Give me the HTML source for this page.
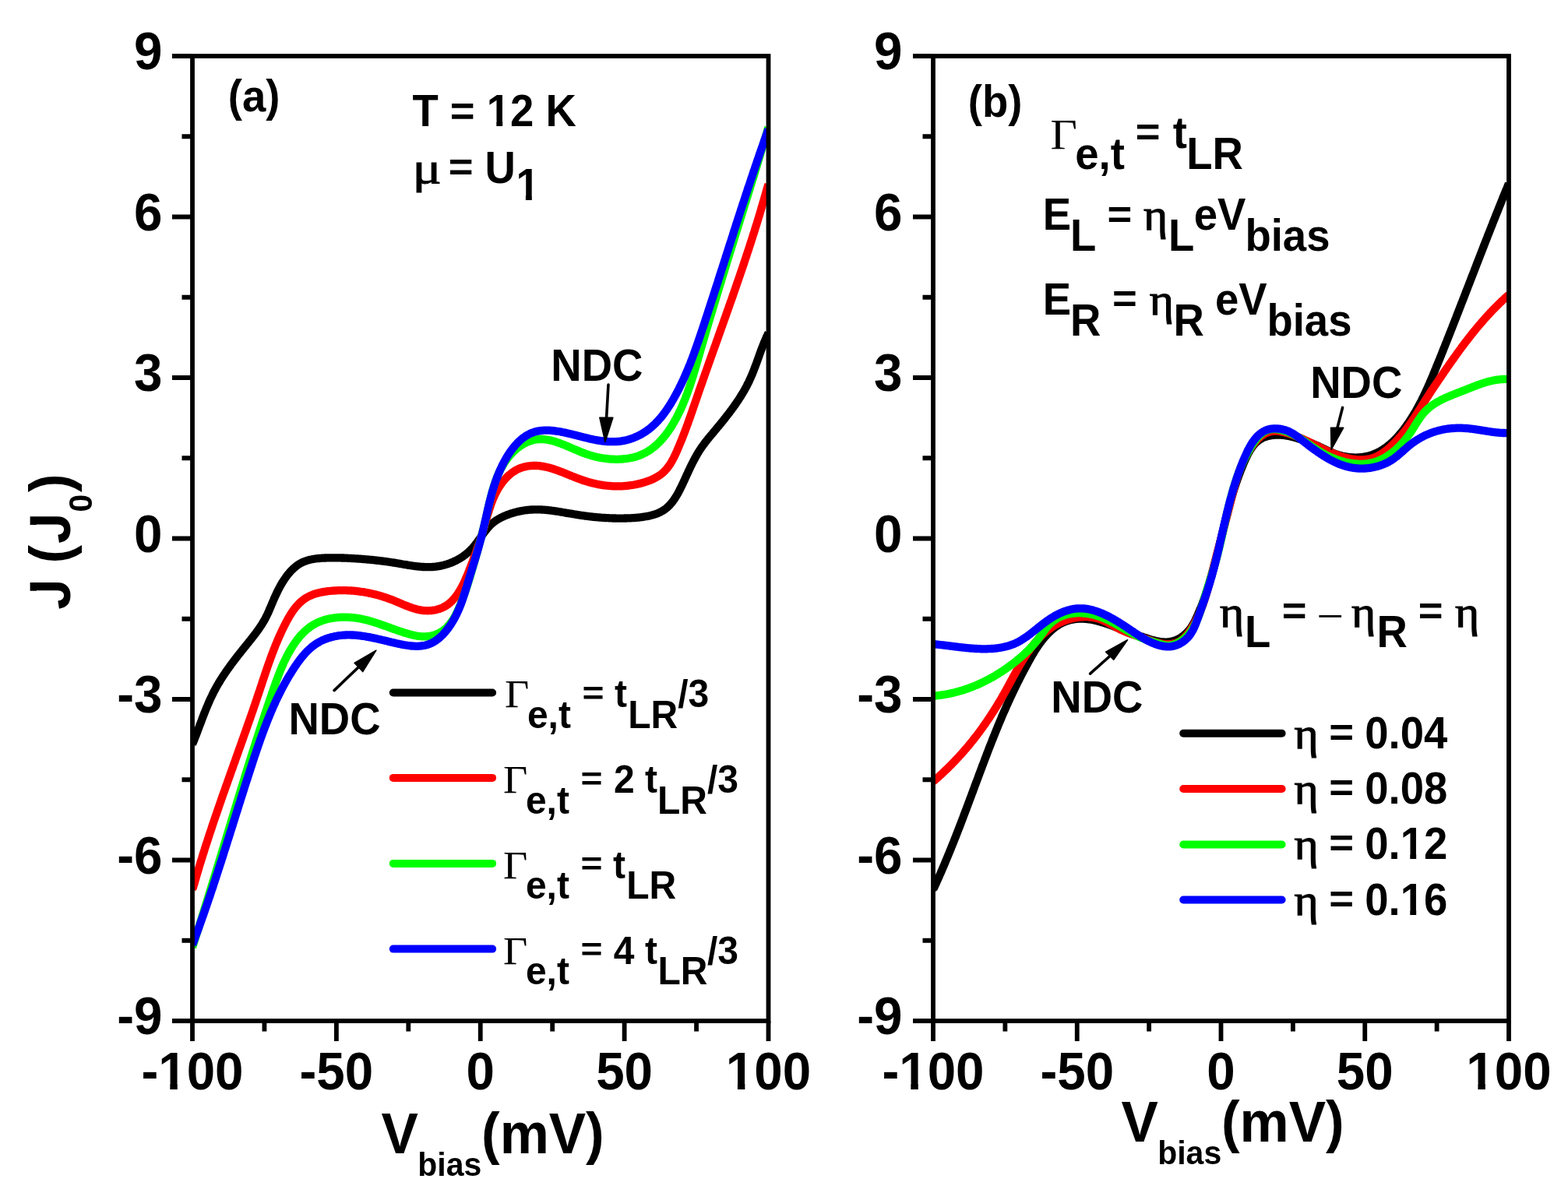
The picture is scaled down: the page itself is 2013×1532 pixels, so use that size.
<!DOCTYPE html>
<html><head><meta charset="utf-8"><title>J-V curves</title>
<style>html,body{margin:0;padding:0;background:#fff;} svg{display:block;}</style>
</head><body>
<svg xmlns="http://www.w3.org/2000/svg" width="2013" height="1532" viewBox="0 0 2013 1532">
<rect x="0" y="0" width="2013" height="1532" fill="#fff"/>
<defs>
<clipPath id="ca"><rect x="247.0" y="52.0" width="739.5" height="1279.0"/></clipPath>
<clipPath id="cb"><rect x="1198.0" y="52.0" width="739.0" height="1279.0"/></clipPath>
</defs>
<path d="M247.0,955.0 L247.7,954.0 L248.1,953.0 L248.5,951.9 L249.0,950.9 L249.4,949.8 L249.8,948.8 L250.2,947.7 L250.6,946.7 L251.0,945.6 L251.5,944.5 L251.9,943.5 L252.3,942.4 L252.7,941.3 L253.1,940.3 L253.5,939.2 L253.9,938.1 L254.3,937.1 L254.7,936.0 L255.1,934.9 L255.5,933.8 L255.9,932.7 L256.3,931.7 L256.7,930.6 L257.2,929.5 L257.6,928.4 L258.0,927.4 L258.4,926.3 L258.8,925.2 L259.2,924.1 L259.6,923.0 L260.0,921.9 L260.4,920.9 L260.8,919.8 L261.3,918.7 L261.7,917.6 L262.1,916.5 L262.5,915.5 L262.9,914.4 L263.4,913.3 L263.8,912.2 L264.2,911.2 L264.7,910.1 L265.1,909.0 L265.6,907.9 L266.0,906.9 L266.5,905.8 L266.9,904.7 L267.4,903.7 L267.8,902.6 L268.3,901.6 L268.8,900.5 L269.2,899.4 L269.7,898.4 L270.2,897.3 L270.7,896.3 L271.2,895.2 L271.7,894.2 L272.2,893.2 L272.7,892.1 L273.2,891.1 L273.7,890.1 L274.2,889.0 L274.7,888.0 L275.3,887.0 L275.8,886.0 L276.4,885.0 L276.9,883.9 L277.5,882.9 L278.0,881.9 L278.6,880.9 L279.2,879.9 L279.7,878.9 L280.3,878.0 L280.9,877.0 L281.5,876.0 L282.1,875.0 L282.7,874.0 L283.3,873.0 L283.9,872.1 L284.5,871.1 L285.1,870.1 L285.8,869.2 L286.4,868.2 L287.0,867.2 L287.7,866.3 L288.3,865.3 L289.0,864.4 L289.6,863.4 L290.2,862.5 L290.9,861.5 L291.6,860.6 L292.2,859.6 L292.9,858.7 L293.6,857.8 L294.2,856.8 L294.9,855.9 L295.6,855.0 L296.3,854.0 L296.9,853.1 L297.6,852.2 L298.3,851.3 L299.0,850.3 L299.7,849.4 L300.4,848.5 L301.1,847.6 L301.8,846.7 L302.5,845.7 L303.2,844.8 L303.9,843.9 L304.6,843.0 L305.3,842.1 L306.0,841.2 L306.7,840.3 L307.4,839.4 L308.2,838.5 L308.9,837.6 L309.6,836.7 L310.3,835.8 L311.0,834.9 L311.7,834.0 L312.5,833.1 L313.2,832.2 L313.9,831.3 L314.6,830.4 L315.4,829.5 L316.1,828.6 L316.8,827.7 L317.5,826.8 L318.3,825.9 L319.0,825.0 L319.7,824.1 L320.4,823.2 L321.1,822.3 L321.9,821.4 L322.6,820.5 L323.3,819.6 L324.0,818.7 L324.7,817.8 L325.4,816.9 L326.1,816.0 L326.8,815.1 L327.5,814.2 L328.2,813.3 L328.9,812.4 L329.5,811.5 L330.2,810.5 L330.9,809.6 L331.5,808.7 L332.2,807.8 L332.8,806.8 L333.5,805.9 L334.1,804.9 L334.7,804.0 L335.4,803.1 L336.0,802.1 L336.6,801.1 L337.2,800.2 L337.8,799.2 L338.3,798.2 L338.9,797.3 L339.5,796.3 L340.0,795.3 L340.6,794.3 L341.1,793.3 L341.6,792.3 L342.1,791.3 L342.6,790.2 L343.1,789.2 L343.6,788.2 L344.1,787.1 L344.6,786.1 L345.0,785.1 L345.5,784.0 L345.9,782.9 L346.4,781.9 L346.8,780.8 L347.3,779.8 L347.7,778.7 L348.2,777.6 L348.6,776.5 L349.1,775.5 L349.5,774.4 L350.0,773.3 L350.4,772.2 L350.9,771.2 L351.4,770.1 L351.8,769.0 L352.3,767.9 L352.8,766.8 L353.3,765.8 L353.8,764.7 L354.3,763.6 L354.8,762.6 L355.3,761.5 L355.8,760.4 L356.3,759.4 L356.8,758.3 L357.4,757.2 L357.9,756.2 L358.5,755.2 L359.0,754.1 L359.6,753.1 L360.2,752.0 L360.7,751.0 L361.3,750.0 L361.9,749.0 L362.5,748.0 L363.1,747.0 L363.8,746.0 L364.4,745.0 L365.0,744.1 L365.7,743.1 L366.4,742.1 L367.0,741.2 L367.7,740.3 L368.4,739.3 L369.1,738.4 L369.8,737.5 L370.5,736.6 L371.3,735.8 L372.0,734.9 L372.8,734.0 L373.6,733.2 L374.3,732.4 L375.1,731.6 L376.0,730.8 L376.8,730.0 L377.6,729.2 L378.5,728.5 L379.3,727.8 L380.2,727.1 L381.1,726.4 L382.0,725.8 L382.9,725.1 L383.8,724.5 L384.8,723.9 L385.7,723.4 L386.7,722.9 L387.7,722.4 L388.7,721.9 L389.7,721.5 L390.7,721.0 L391.8,720.7 L392.8,720.3 L393.9,719.9 L394.9,719.6 L396.0,719.3 L397.1,719.0 L398.2,718.7 L399.3,718.5 L400.4,718.3 L401.6,718.0 L402.7,717.8 L403.8,717.7 L405.0,717.5 L406.1,717.3 L407.3,717.2 L408.5,717.1 L409.6,717.0 L410.8,716.9 L412.0,716.8 L413.1,716.7 L414.3,716.6 L415.5,716.6 L416.7,716.5 L417.8,716.5 L419.0,716.4 L420.2,716.4 L421.4,716.4 L422.5,716.3 L423.7,716.3 L424.9,716.3 L426.1,716.3 L427.2,716.3 L428.4,716.3 L429.6,716.3 L430.7,716.3 L431.9,716.3 L433.0,716.3 L434.2,716.3 L435.4,716.4 L436.5,716.4 L437.7,716.4 L438.8,716.5 L440.0,716.5 L441.2,716.5 L442.3,716.6 L443.5,716.6 L444.6,716.7 L445.8,716.7 L446.9,716.8 L448.1,716.8 L449.2,716.9 L450.4,716.9 L451.5,717.0 L452.7,717.1 L453.8,717.1 L455.0,717.2 L456.1,717.3 L457.2,717.4 L458.4,717.4 L459.5,717.5 L460.7,717.6 L461.8,717.7 L463.0,717.7 L464.1,717.8 L465.3,717.9 L466.4,718.0 L467.6,718.1 L468.7,718.2 L469.8,718.3 L471.0,718.4 L472.1,718.5 L473.3,718.6 L474.4,718.7 L475.6,718.8 L476.7,718.9 L477.8,719.0 L479.0,719.1 L480.1,719.3 L481.3,719.4 L482.4,719.5 L483.5,719.6 L484.7,719.8 L485.8,719.9 L487.0,720.0 L488.1,720.2 L489.2,720.3 L490.4,720.4 L491.5,720.6 L492.7,720.7 L493.8,720.9 L495.0,721.0 L496.1,721.2 L497.2,721.3 L498.4,721.5 L499.5,721.7 L500.7,721.8 L501.8,722.0 L502.9,722.2 L504.1,722.4 L505.2,722.5 L506.4,722.7 L507.5,722.9 L508.7,723.1 L509.8,723.3 L510.9,723.5 L512.1,723.7 L513.2,723.9 L514.4,724.1 L515.5,724.3 L516.7,724.5 L517.8,724.7 L518.9,724.9 L520.1,725.1 L521.2,725.2 L522.4,725.4 L523.5,725.6 L524.7,725.8 L525.8,726.0 L526.9,726.2 L528.1,726.3 L529.2,726.5 L530.4,726.7 L531.5,726.8 L532.7,727.0 L533.8,727.1 L534.9,727.3 L536.1,727.4 L537.2,727.5 L538.4,727.6 L539.5,727.7 L540.7,727.8 L541.8,727.9 L542.9,728.0 L544.1,728.0 L545.2,728.1 L546.4,728.1 L547.5,728.2 L548.6,728.2 L549.8,728.2 L550.9,728.2 L552.1,728.1 L553.2,728.1 L554.3,728.1 L555.5,728.0 L556.6,727.9 L557.7,727.8 L558.9,727.7 L560.0,727.6 L561.1,727.4 L562.3,727.2 L563.4,727.1 L564.5,726.9 L565.7,726.6 L566.8,726.4 L567.9,726.1 L569.1,725.9 L570.2,725.6 L571.3,725.3 L572.4,724.9 L573.5,724.6 L574.6,724.3 L575.7,723.9 L576.8,723.5 L577.9,723.1 L579.0,722.7 L580.1,722.2 L581.2,721.8 L582.2,721.3 L583.3,720.8 L584.4,720.3 L585.4,719.8 L586.4,719.3 L587.5,718.7 L588.5,718.2 L589.5,717.6 L590.5,717.0 L591.5,716.4 L592.5,715.8 L593.5,715.1 L594.4,714.5 L595.4,713.8 L596.3,713.1 L597.2,712.4 L598.1,711.7 L599.0,711.0 L599.9,710.2 L600.8,709.5 L601.7,708.7 L602.5,707.9 L603.4,707.1 L604.2,706.3 L605.0,705.5 L605.8,704.7 L606.5,703.8 L607.3,703.0 L608.1,702.1 L608.8,701.2 L609.5,700.3 L610.2,699.4 L610.9,698.5 L611.6,697.6 L612.3,696.7 L613.0,695.8 L613.7,694.8 L614.3,693.9 L615.0,693.0 L615.7,692.0 L616.3,691.1 L617.0,690.1 L617.7,689.2 L618.3,688.3 L619.0,687.3 L619.7,686.4 L620.3,685.5 L621.0,684.6 L621.7,683.6 L622.4,682.7 L623.0,681.8 L623.7,681.0 L624.5,680.1 L625.2,679.2 L625.9,678.3 L626.6,677.5 L627.4,676.7 L628.1,675.8 L628.9,675.0 L629.7,674.2 L630.5,673.4 L631.4,672.7 L632.2,671.9 L633.1,671.2 L633.9,670.5 L634.8,669.8 L635.8,669.2 L636.7,668.5 L637.6,667.9 L638.6,667.3 L639.6,666.7 L640.6,666.1 L641.6,665.6 L642.6,665.0 L643.7,664.5 L644.7,664.0 L645.8,663.5 L646.8,663.0 L647.9,662.5 L649.0,662.1 L650.1,661.6 L651.2,661.2 L652.3,660.8 L653.4,660.4 L654.5,660.0 L655.6,659.6 L656.7,659.2 L657.9,658.9 L659.0,658.6 L660.1,658.2 L661.3,657.9 L662.4,657.6 L663.6,657.3 L664.7,657.1 L665.8,656.8 L667.0,656.6 L668.1,656.3 L669.3,656.1 L670.4,655.9 L671.5,655.7 L672.7,655.5 L673.8,655.3 L675.0,655.2 L676.1,655.1 L677.2,654.9 L678.4,654.8 L679.5,654.7 L680.7,654.6 L681.8,654.5 L682.9,654.5 L684.1,654.4 L685.2,654.4 L686.4,654.3 L687.5,654.3 L688.6,654.3 L689.8,654.3 L690.9,654.3 L692.1,654.3 L693.2,654.4 L694.3,654.4 L695.5,654.5 L696.6,654.6 L697.8,654.6 L698.9,654.7 L700.1,654.8 L701.2,654.9 L702.4,655.0 L703.5,655.1 L704.6,655.3 L705.8,655.4 L706.9,655.5 L708.1,655.7 L709.2,655.8 L710.4,656.0 L711.5,656.1 L712.7,656.3 L713.8,656.5 L715.0,656.6 L716.1,656.8 L717.3,657.0 L718.4,657.2 L719.5,657.4 L720.7,657.6 L721.8,657.8 L723.0,658.0 L724.1,658.2 L725.3,658.4 L726.4,658.6 L727.6,658.8 L728.7,659.0 L729.8,659.1 L731.0,659.3 L732.1,659.5 L733.3,659.7 L734.4,659.9 L735.6,660.1 L736.7,660.3 L737.8,660.5 L739.0,660.7 L740.1,660.9 L741.2,661.1 L742.4,661.2 L743.5,661.4 L744.7,661.6 L745.8,661.8 L746.9,661.9 L748.1,662.1 L749.2,662.2 L750.3,662.4 L751.5,662.6 L752.6,662.7 L753.7,662.8 L754.9,663.0 L756.0,663.1 L757.1,663.3 L758.3,663.4 L759.4,663.5 L760.5,663.6 L761.7,663.8 L762.8,663.9 L763.9,664.0 L765.1,664.1 L766.2,664.2 L767.3,664.3 L768.5,664.4 L769.6,664.5 L770.7,664.6 L771.9,664.7 L773.0,664.8 L774.1,664.9 L775.3,664.9 L776.4,665.0 L777.6,665.1 L778.7,665.1 L779.8,665.2 L781.0,665.2 L782.1,665.3 L783.3,665.3 L784.4,665.4 L785.6,665.4 L786.7,665.5 L787.9,665.5 L789.0,665.5 L790.2,665.5 L791.3,665.6 L792.5,665.6 L793.6,665.6 L794.8,665.6 L796.0,665.6 L797.1,665.6 L798.3,665.6 L799.4,665.6 L800.6,665.6 L801.8,665.5 L802.9,665.5 L804.1,665.5 L805.3,665.4 L806.5,665.4 L807.6,665.4 L808.8,665.3 L810.0,665.3 L811.2,665.2 L812.4,665.1 L813.5,665.1 L814.7,665.0 L815.9,664.9 L817.1,664.8 L818.3,664.7 L819.5,664.6 L820.6,664.5 L821.8,664.3 L823.0,664.2 L824.2,664.0 L825.3,663.9 L826.5,663.7 L827.7,663.5 L828.8,663.3 L830.0,663.1 L831.2,662.9 L832.3,662.7 L833.5,662.4 L834.6,662.2 L835.7,661.9 L836.9,661.6 L838.0,661.3 L839.1,661.0 L840.2,660.6 L841.3,660.3 L842.4,659.9 L843.4,659.5 L844.5,659.1 L845.5,658.6 L846.6,658.2 L847.6,657.7 L848.6,657.2 L849.6,656.6 L850.5,656.1 L851.5,655.5 L852.4,654.9 L853.3,654.3 L854.2,653.6 L855.0,653.0 L855.9,652.3 L856.7,651.5 L857.5,650.8 L858.3,650.0 L859.1,649.3 L859.8,648.5 L860.6,647.6 L861.3,646.8 L862.0,645.9 L862.8,645.1 L863.4,644.2 L864.1,643.3 L864.8,642.4 L865.4,641.4 L866.1,640.5 L866.7,639.5 L867.3,638.6 L867.9,637.6 L868.5,636.6 L869.1,635.6 L869.7,634.6 L870.3,633.6 L870.8,632.6 L871.4,631.5 L871.9,630.5 L872.5,629.4 L873.0,628.4 L873.5,627.3 L874.0,626.3 L874.6,625.2 L875.1,624.2 L875.6,623.1 L876.1,622.0 L876.6,621.0 L877.1,619.9 L877.6,618.8 L878.1,617.8 L878.6,616.7 L879.1,615.7 L879.5,614.6 L880.0,613.5 L880.5,612.5 L881.0,611.4 L881.5,610.3 L882.0,609.3 L882.5,608.2 L883.0,607.2 L883.4,606.1 L883.9,605.1 L884.4,604.0 L884.9,603.0 L885.4,601.9 L885.9,600.9 L886.4,599.8 L886.9,598.8 L887.4,597.8 L887.9,596.7 L888.4,595.7 L888.9,594.7 L889.4,593.7 L890.0,592.6 L890.5,591.6 L891.0,590.6 L891.6,589.6 L892.1,588.6 L892.6,587.6 L893.2,586.6 L893.8,585.6 L894.3,584.6 L894.9,583.6 L895.5,582.6 L896.1,581.7 L896.7,580.7 L897.3,579.7 L897.9,578.7 L898.5,577.8 L899.1,576.8 L899.8,575.9 L900.4,574.9 L901.1,574.0 L901.7,573.1 L902.4,572.1 L903.1,571.2 L903.8,570.3 L904.4,569.4 L905.1,568.5 L905.8,567.5 L906.6,566.6 L907.3,565.7 L908.0,564.8 L908.7,563.9 L909.4,563.0 L910.2,562.1 L910.9,561.2 L911.6,560.3 L912.4,559.4 L913.1,558.6 L913.9,557.7 L914.6,556.8 L915.3,555.9 L916.1,555.0 L916.8,554.1 L917.6,553.2 L918.3,552.3 L919.1,551.4 L919.8,550.5 L920.5,549.6 L921.3,548.7 L922.0,547.9 L922.8,547.0 L923.5,546.1 L924.2,545.2 L925.0,544.3 L925.7,543.4 L926.4,542.5 L927.2,541.6 L927.9,540.7 L928.6,539.8 L929.3,538.9 L930.1,538.0 L930.8,537.1 L931.5,536.1 L932.2,535.2 L932.9,534.3 L933.6,533.4 L934.3,532.5 L935.0,531.6 L935.8,530.7 L936.5,529.7 L937.1,528.8 L937.8,527.9 L938.5,527.0 L939.2,526.1 L939.9,525.1 L940.6,524.2 L941.3,523.3 L941.9,522.3 L942.6,521.4 L943.3,520.5 L943.9,519.5 L944.6,518.6 L945.2,517.6 L945.9,516.7 L946.5,515.7 L947.2,514.8 L947.8,513.8 L948.4,512.9 L949.1,511.9 L949.7,510.9 L950.3,510.0 L950.9,509.0 L951.5,508.0 L952.1,507.0 L952.7,506.1 L953.3,505.1 L953.9,504.1 L954.5,503.1 L955.1,502.1 L955.6,501.1 L956.2,500.1 L956.7,499.1 L957.3,498.1 L957.8,497.1 L958.4,496.1 L958.9,495.1 L959.4,494.1 L959.9,493.0 L960.5,492.0 L961.0,491.0 L961.5,490.0 L962.0,488.9 L962.4,487.9 L962.9,486.8 L963.4,485.8 L963.9,484.7 L964.3,483.7 L964.8,482.6 L965.2,481.6 L965.7,480.5 L966.1,479.4 L966.5,478.4 L967.0,477.3 L967.4,476.2 L967.8,475.1 L968.2,474.1 L968.6,473.0 L969.1,471.9 L969.5,470.8 L969.9,469.7 L970.3,468.6 L970.7,467.6 L971.1,466.5 L971.5,465.4 L971.9,464.3 L972.3,463.2 L972.7,462.1 L973.1,461.0 L973.5,459.9 L973.9,458.9 L974.2,457.8 L974.6,456.7 L975.0,455.6 L975.4,454.5 L975.8,453.4 L976.2,452.3 L976.6,451.2 L977.0,450.2 L977.4,449.1 L977.8,448.0 L978.3,446.9 L978.7,445.9 L979.1,444.8 L979.5,443.7 L979.9,442.6 L980.3,441.6 L980.8,440.5 L981.2,439.4 L981.7,438.4 L982.1,437.3 L982.5,436.3 L983.0,435.2 L983.5,434.2 L983.9,433.1 L984.4,432.1 L984.9,431.0 L985.4,430.0 L985.8,429.0 L986.5,428.0" fill="none" stroke="#000" stroke-width="10.3" stroke-linejoin="round" stroke-linecap="butt" clip-path="url(#ca)"/>
<path d="M247.0,1141.0 L248.0,1139.7 L248.4,1138.2 L248.8,1136.7 L249.3,1135.3 L249.7,1133.8 L250.1,1132.3 L250.5,1130.8 L251.0,1129.3 L251.4,1127.9 L251.8,1126.4 L252.2,1124.9 L252.7,1123.4 L253.1,1122.0 L253.5,1120.5 L254.0,1119.0 L254.4,1117.5 L254.9,1116.1 L255.3,1114.6 L255.7,1113.1 L256.2,1111.6 L256.6,1110.2 L257.1,1108.7 L257.5,1107.2 L258.0,1105.8 L258.4,1104.3 L258.9,1102.8 L259.4,1101.4 L259.8,1099.9 L260.3,1098.4 L260.7,1097.0 L261.2,1095.5 L261.7,1094.0 L262.1,1092.6 L262.6,1091.1 L263.0,1089.6 L263.5,1088.2 L264.0,1086.7 L264.5,1085.2 L264.9,1083.8 L265.4,1082.3 L265.9,1080.8 L266.4,1079.4 L266.8,1077.9 L267.3,1076.4 L267.8,1075.0 L268.3,1073.5 L268.7,1072.1 L269.2,1070.6 L269.7,1069.1 L270.2,1067.7 L270.7,1066.2 L271.2,1064.8 L271.7,1063.3 L272.1,1061.8 L272.6,1060.4 L273.1,1058.9 L273.6,1057.5 L274.1,1056.0 L274.6,1054.6 L275.1,1053.1 L275.6,1051.6 L276.1,1050.2 L276.6,1048.7 L277.1,1047.3 L277.6,1045.8 L278.1,1044.4 L278.6,1042.9 L279.1,1041.5 L279.6,1040.0 L280.1,1038.6 L280.6,1037.1 L281.1,1035.6 L281.6,1034.2 L282.1,1032.7 L282.6,1031.3 L283.1,1029.8 L283.6,1028.4 L284.1,1026.9 L284.6,1025.5 L285.1,1024.0 L285.6,1022.6 L286.1,1021.1 L286.6,1019.7 L287.2,1018.2 L287.7,1016.8 L288.2,1015.3 L288.7,1013.9 L289.2,1012.4 L289.7,1011.0 L290.2,1009.5 L290.7,1008.1 L291.3,1006.6 L291.8,1005.2 L292.3,1003.7 L292.8,1002.3 L293.3,1000.8 L293.8,999.4 L294.3,997.9 L294.9,996.5 L295.4,995.0 L295.9,993.6 L296.4,992.1 L296.9,990.7 L297.4,989.2 L298.0,987.8 L298.5,986.3 L299.0,984.9 L299.5,983.4 L300.0,982.0 L300.5,980.5 L301.1,979.1 L301.6,977.6 L302.1,976.2 L302.6,974.7 L303.1,973.3 L303.6,971.8 L304.2,970.4 L304.7,968.9 L305.2,967.5 L305.7,966.0 L306.2,964.6 L306.7,963.1 L307.2,961.7 L307.8,960.2 L308.3,958.8 L308.8,957.3 L309.3,955.9 L309.8,954.4 L310.3,953.0 L310.9,951.5 L311.4,950.1 L311.9,948.6 L312.4,947.2 L312.9,945.7 L313.4,944.3 L313.9,942.8 L314.4,941.4 L315.0,939.9 L315.5,938.5 L316.0,937.0 L316.5,935.6 L317.0,934.1 L317.5,932.7 L318.0,931.2 L318.5,929.8 L319.0,928.3 L319.5,926.9 L320.1,925.4 L320.6,924.0 L321.1,922.5 L321.6,921.1 L322.1,919.6 L322.6,918.2 L323.1,916.7 L323.6,915.3 L324.1,913.8 L324.6,912.4 L325.1,910.9 L325.6,909.5 L326.1,908.0 L326.6,906.6 L327.1,905.1 L327.6,903.6 L328.1,902.2 L328.6,900.7 L329.1,899.3 L329.6,897.8 L330.0,896.4 L330.5,894.9 L331.0,893.5 L331.5,892.0 L332.0,890.5 L332.5,889.1 L333.0,887.6 L333.5,886.2 L333.9,884.7 L334.4,883.3 L334.9,881.8 L335.4,880.3 L335.9,878.9 L336.4,877.4 L336.8,876.0 L337.3,874.5 L337.8,873.1 L338.3,871.6 L338.8,870.1 L339.3,868.7 L339.8,867.2 L340.2,865.8 L340.7,864.3 L341.2,862.9 L341.7,861.4 L342.2,860.0 L342.7,858.5 L343.2,857.1 L343.7,855.6 L344.2,854.1 L344.7,852.7 L345.2,851.2 L345.8,849.8 L346.3,848.4 L346.8,846.9 L347.3,845.5 L347.8,844.0 L348.4,842.6 L348.9,841.1 L349.4,839.7 L350.0,838.3 L350.5,836.8 L351.1,835.4 L351.6,834.0 L352.2,832.5 L352.8,831.1 L353.3,829.7 L353.9,828.2 L354.5,826.8 L355.1,825.4 L355.7,824.0 L356.3,822.5 L356.9,821.1 L357.5,819.7 L358.1,818.3 L358.7,816.9 L359.4,815.5 L360.0,814.1 L360.7,812.7 L361.3,811.2 L362.0,809.8 L362.6,808.4 L363.3,807.1 L364.0,805.7 L364.7,804.3 L365.4,802.9 L366.1,801.5 L366.8,800.1 L367.5,798.7 L368.3,797.3 L369.0,796.0 L369.8,794.6 L370.5,793.3 L371.3,791.9 L372.1,790.6 L372.9,789.3 L373.7,788.0 L374.6,786.7 L375.4,785.4 L376.3,784.1 L377.2,782.9 L378.1,781.7 L379.0,780.5 L380.0,779.3 L381.0,778.2 L382.0,777.1 L383.0,776.0 L384.0,774.9 L385.1,773.9 L386.2,772.9 L387.3,771.9 L388.4,771.0 L389.6,770.1 L390.8,769.2 L392.0,768.4 L393.3,767.6 L394.5,766.9 L395.9,766.1 L397.2,765.5 L398.6,764.8 L400.0,764.3 L401.4,763.7 L402.8,763.2 L404.3,762.7 L405.7,762.2 L407.2,761.8 L408.7,761.4 L410.3,761.0 L411.8,760.7 L413.3,760.4 L414.9,760.1 L416.5,759.8 L418.1,759.6 L419.6,759.4 L421.2,759.2 L422.8,759.0 L424.4,758.8 L426.0,758.7 L427.6,758.6 L429.2,758.5 L430.8,758.4 L432.4,758.3 L433.9,758.2 L435.5,758.2 L437.1,758.2 L438.7,758.1 L440.2,758.1 L441.8,758.2 L443.3,758.2 L444.9,758.2 L446.4,758.3 L448.0,758.3 L449.5,758.4 L451.0,758.5 L452.6,758.6 L454.1,758.7 L455.6,758.9 L457.1,759.0 L458.6,759.2 L460.2,759.4 L461.7,759.6 L463.2,759.8 L464.7,760.0 L466.2,760.2 L467.7,760.4 L469.2,760.7 L470.7,761.0 L472.1,761.3 L473.6,761.6 L475.1,761.9 L476.6,762.2 L478.1,762.5 L479.6,762.9 L481.0,763.2 L482.5,763.6 L484.0,764.0 L485.4,764.4 L486.9,764.8 L488.4,765.2 L489.8,765.7 L491.3,766.1 L492.8,766.6 L494.2,767.1 L495.7,767.5 L497.1,768.0 L498.6,768.6 L500.0,769.1 L501.5,769.6 L502.9,770.2 L504.4,770.7 L505.8,771.3 L507.3,771.9 L508.7,772.5 L510.2,773.1 L511.6,773.7 L513.1,774.3 L514.5,774.9 L516.0,775.6 L517.4,776.2 L518.9,776.8 L520.3,777.4 L521.8,778.0 L523.3,778.5 L524.7,779.1 L526.2,779.6 L527.7,780.2 L529.1,780.7 L530.6,781.2 L532.1,781.6 L533.6,782.0 L535.1,782.4 L536.5,782.8 L538.0,783.1 L539.6,783.4 L541.1,783.7 L542.6,783.9 L544.1,784.0 L545.6,784.2 L547.2,784.2 L548.7,784.3 L550.2,784.2 L551.8,784.2 L553.3,784.1 L554.8,783.9 L556.3,783.7 L557.8,783.5 L559.3,783.2 L560.8,782.8 L562.2,782.4 L563.6,782.0 L565.1,781.5 L566.4,781.0 L567.8,780.4 L569.1,779.8 L570.4,779.1 L571.7,778.4 L573.0,777.6 L574.2,776.8 L575.3,776.0 L576.5,775.1 L577.6,774.1 L578.7,773.2 L579.8,772.1 L580.8,771.1 L581.8,770.0 L582.8,768.9 L583.8,767.8 L584.7,766.6 L585.7,765.4 L586.6,764.1 L587.4,762.9 L588.3,761.6 L589.1,760.3 L590.0,759.0 L590.8,757.6 L591.5,756.3 L592.3,754.9 L593.0,753.5 L593.8,752.1 L594.5,750.6 L595.2,749.2 L595.9,747.7 L596.6,746.3 L597.2,744.8 L597.9,743.3 L598.5,741.9 L599.1,740.4 L599.8,738.9 L600.4,737.4 L601.0,735.9 L601.6,734.4 L602.2,733.0 L602.7,731.5 L603.3,730.0 L603.9,728.6 L604.5,727.1 L605.0,725.6 L605.6,724.2 L606.1,722.8 L606.7,721.3 L607.2,719.9 L607.7,718.5 L608.3,717.0 L608.8,715.6 L609.3,714.2 L609.8,712.8 L610.4,711.4 L610.9,709.9 L611.4,708.5 L611.9,707.1 L612.4,705.7 L612.9,704.3 L613.3,702.9 L613.8,701.5 L614.3,700.1 L614.8,698.6 L615.3,697.2 L615.7,695.8 L616.2,694.4 L616.6,693.0 L617.1,691.5 L617.6,690.1 L618.0,688.7 L618.4,687.2 L618.9,685.8 L619.3,684.3 L619.8,682.9 L620.2,681.4 L620.6,680.0 L621.0,678.5 L621.5,677.0 L621.9,675.5 L622.3,674.0 L622.7,672.5 L623.1,671.1 L623.6,669.6 L624.0,668.1 L624.4,666.6 L624.8,665.1 L625.3,663.6 L625.7,662.1 L626.1,660.6 L626.6,659.1 L627.1,657.6 L627.5,656.1 L628.0,654.6 L628.5,653.1 L629.0,651.6 L629.5,650.2 L630.0,648.7 L630.5,647.2 L631.0,645.8 L631.6,644.3 L632.1,642.9 L632.7,641.4 L633.3,640.0 L633.9,638.6 L634.5,637.2 L635.2,635.8 L635.8,634.4 L636.5,633.0 L637.2,631.7 L637.9,630.3 L638.7,629.0 L639.4,627.6 L640.2,626.3 L641.0,625.0 L641.9,623.8 L642.7,622.5 L643.6,621.3 L644.5,620.0 L645.4,618.8 L646.4,617.6 L647.3,616.4 L648.4,615.3 L649.4,614.1 L650.5,613.0 L651.5,612.0 L652.7,610.9 L653.8,609.9 L655.0,608.9 L656.2,607.9 L657.4,607.0 L658.6,606.1 L659.9,605.3 L661.2,604.5 L662.5,603.7 L663.9,603.0 L665.2,602.3 L666.6,601.7 L668.0,601.1 L669.5,600.6 L670.9,600.2 L672.4,599.7 L673.9,599.4 L675.4,599.0 L676.9,598.7 L678.4,598.5 L679.9,598.3 L681.4,598.2 L682.9,598.1 L684.4,598.0 L685.9,598.0 L687.4,598.0 L688.9,598.0 L690.4,598.1 L691.9,598.2 L693.4,598.4 L694.9,598.6 L696.4,598.8 L697.9,599.1 L699.3,599.3 L700.8,599.7 L702.3,600.0 L703.7,600.3 L705.2,600.7 L706.7,601.1 L708.1,601.6 L709.6,602.0 L711.1,602.5 L712.5,603.0 L714.0,603.5 L715.4,604.0 L716.9,604.5 L718.4,605.1 L719.8,605.6 L721.3,606.2 L722.7,606.7 L724.2,607.3 L725.6,607.9 L727.1,608.5 L728.5,609.1 L730.0,609.7 L731.5,610.3 L732.9,610.9 L734.4,611.5 L735.8,612.0 L737.3,612.6 L738.8,613.2 L740.2,613.8 L741.7,614.3 L743.2,614.9 L744.6,615.4 L746.1,616.0 L747.6,616.5 L749.1,617.0 L750.6,617.5 L752.0,617.9 L753.5,618.4 L755.0,618.8 L756.5,619.3 L758.0,619.7 L759.5,620.1 L761.0,620.4 L762.5,620.8 L764.0,621.1 L765.5,621.5 L767.0,621.8 L768.5,622.1 L770.0,622.4 L771.6,622.6 L773.1,622.9 L774.6,623.1 L776.1,623.3 L777.6,623.5 L779.1,623.7 L780.6,623.8 L782.2,623.9 L783.7,624.1 L785.2,624.2 L786.7,624.3 L788.3,624.3 L789.8,624.4 L791.3,624.4 L792.8,624.4 L794.3,624.4 L795.9,624.4 L797.4,624.3 L798.9,624.3 L800.4,624.2 L802.0,624.1 L803.5,623.9 L805.0,623.8 L806.5,623.6 L808.1,623.4 L809.6,623.2 L811.1,623.0 L812.6,622.8 L814.2,622.5 L815.7,622.2 L817.2,621.9 L818.7,621.6 L820.2,621.2 L821.7,620.9 L823.2,620.5 L824.8,620.1 L826.3,619.6 L827.8,619.2 L829.3,618.7 L830.8,618.2 L832.2,617.6 L833.7,617.1 L835.2,616.5 L836.6,615.9 L838.0,615.3 L839.4,614.6 L840.8,613.9 L842.2,613.2 L843.5,612.4 L844.8,611.6 L846.1,610.8 L847.4,609.9 L848.6,609.0 L849.8,608.1 L850.9,607.2 L852.0,606.2 L853.1,605.1 L854.1,604.0 L855.1,602.9 L856.1,601.8 L857.0,600.6 L858.0,599.4 L858.8,598.2 L859.7,597.0 L860.5,595.7 L861.3,594.4 L862.1,593.1 L862.8,591.8 L863.6,590.4 L864.3,589.1 L865.0,587.7 L865.7,586.3 L866.4,584.9 L867.0,583.5 L867.7,582.1 L868.3,580.7 L869.0,579.3 L869.6,577.9 L870.2,576.4 L870.8,575.0 L871.4,573.6 L872.0,572.2 L872.6,570.7 L873.2,569.3 L873.8,567.9 L874.4,566.4 L875.0,565.0 L875.6,563.6 L876.1,562.1 L876.7,560.7 L877.2,559.3 L877.8,557.8 L878.4,556.4 L878.9,554.9 L879.5,553.5 L880.0,552.1 L880.5,550.6 L881.1,549.2 L881.6,547.7 L882.1,546.3 L882.7,544.8 L883.2,543.4 L883.7,541.9 L884.2,540.5 L884.7,539.0 L885.3,537.6 L885.8,536.1 L886.3,534.7 L886.8,533.2 L887.3,531.8 L887.8,530.3 L888.3,528.9 L888.8,527.4 L889.3,526.0 L889.8,524.5 L890.3,523.1 L890.8,521.6 L891.3,520.2 L891.8,518.7 L892.3,517.3 L892.8,515.8 L893.3,514.4 L893.8,512.9 L894.3,511.5 L894.8,510.0 L895.3,508.6 L895.8,507.1 L896.3,505.6 L896.8,504.2 L897.3,502.7 L897.8,501.3 L898.3,499.8 L898.8,498.4 L899.3,496.9 L899.8,495.5 L900.4,494.0 L900.9,492.6 L901.4,491.1 L901.9,489.7 L902.4,488.2 L902.9,486.8 L903.4,485.3 L903.9,483.9 L904.4,482.4 L904.9,481.0 L905.4,479.5 L905.9,478.1 L906.5,476.6 L907.0,475.2 L907.5,473.7 L908.0,472.3 L908.5,470.8 L909.0,469.4 L909.5,467.9 L910.0,466.5 L910.6,465.0 L911.1,463.6 L911.6,462.1 L912.1,460.7 L912.6,459.2 L913.1,457.8 L913.6,456.3 L914.2,454.9 L914.7,453.4 L915.2,452.0 L915.7,450.6 L916.2,449.1 L916.7,447.7 L917.3,446.2 L917.8,444.8 L918.3,443.3 L918.8,441.9 L919.3,440.4 L919.8,439.0 L920.4,437.5 L920.9,436.1 L921.4,434.6 L921.9,433.2 L922.4,431.7 L922.9,430.3 L923.4,428.8 L924.0,427.4 L924.5,425.9 L925.0,424.5 L925.5,423.0 L926.0,421.6 L926.5,420.1 L927.1,418.7 L927.6,417.2 L928.1,415.8 L928.6,414.3 L929.1,412.9 L929.6,411.4 L930.1,410.0 L930.7,408.5 L931.2,407.1 L931.7,405.6 L932.2,404.2 L932.7,402.7 L933.2,401.3 L933.7,399.8 L934.3,398.4 L934.8,396.9 L935.3,395.5 L935.8,394.0 L936.3,392.6 L936.8,391.1 L937.3,389.7 L937.8,388.2 L938.3,386.8 L938.9,385.3 L939.4,383.9 L939.9,382.4 L940.4,381.0 L940.9,379.5 L941.4,378.1 L941.9,376.6 L942.4,375.2 L942.9,373.7 L943.4,372.3 L943.9,370.8 L944.4,369.3 L944.9,367.9 L945.4,366.4 L945.9,365.0 L946.4,363.5 L946.9,362.1 L947.4,360.6 L947.9,359.2 L948.4,357.7 L948.9,356.3 L949.4,354.8 L949.9,353.4 L950.4,351.9 L950.9,350.4 L951.4,349.0 L951.9,347.5 L952.4,346.1 L952.9,344.6 L953.4,343.2 L953.9,341.7 L954.4,340.2 L954.9,338.8 L955.3,337.3 L955.8,335.9 L956.3,334.4 L956.8,332.9 L957.3,331.5 L957.8,330.0 L958.3,328.6 L958.7,327.1 L959.2,325.7 L959.7,324.2 L960.2,322.7 L960.7,321.3 L961.2,319.8 L961.6,318.3 L962.1,316.9 L962.6,315.4 L963.1,314.0 L963.5,312.5 L964.0,311.0 L964.5,309.6 L964.9,308.1 L965.4,306.6 L965.9,305.2 L966.3,303.7 L966.8,302.2 L967.3,300.8 L967.7,299.3 L968.2,297.8 L968.7,296.4 L969.1,294.9 L969.6,293.4 L970.0,292.0 L970.5,290.5 L971.0,289.0 L971.4,287.6 L971.9,286.1 L972.3,284.6 L972.8,283.2 L973.2,281.7 L973.7,280.2 L974.1,278.7 L974.6,277.3 L975.0,275.8 L975.5,274.3 L975.9,272.9 L976.3,271.4 L976.8,269.9 L977.2,268.4 L977.6,267.0 L978.1,265.5 L978.5,264.0 L978.9,262.5 L979.4,261.1 L979.8,259.6 L980.2,258.1 L980.7,256.6 L981.1,255.1 L981.5,253.7 L981.9,252.2 L982.4,250.7 L982.8,249.2 L983.2,247.7 L983.6,246.3 L984.0,244.8 L984.4,243.3 L984.8,241.8 L985.3,240.3 L985.7,238.8 L986.5,237.5" fill="none" stroke="#f00" stroke-width="10.3" stroke-linejoin="round" stroke-linecap="butt" clip-path="url(#ca)"/>
<path d="M247.0,1217.0 L247.3,1215.4 L247.8,1213.8 L248.3,1212.2 L248.9,1210.6 L249.4,1209.0 L249.9,1207.4 L250.4,1205.8 L250.9,1204.2 L251.4,1202.6 L251.9,1201.0 L252.4,1199.4 L252.9,1197.8 L253.5,1196.2 L254.0,1194.7 L254.5,1193.1 L255.0,1191.5 L255.5,1189.9 L256.0,1188.3 L256.5,1186.7 L257.0,1185.1 L257.5,1183.5 L258.0,1181.9 L258.5,1180.3 L259.0,1178.7 L259.5,1177.1 L260.0,1175.5 L260.5,1173.9 L261.0,1172.3 L261.5,1170.7 L262.0,1169.1 L262.5,1167.5 L263.0,1165.9 L263.5,1164.3 L264.0,1162.7 L264.5,1161.1 L265.0,1159.6 L265.5,1158.0 L266.0,1156.4 L266.5,1154.8 L267.0,1153.2 L267.5,1151.6 L268.0,1150.0 L268.4,1148.4 L268.9,1146.8 L269.4,1145.2 L269.9,1143.6 L270.4,1142.0 L270.9,1140.4 L271.4,1138.8 L271.9,1137.2 L272.4,1135.6 L272.9,1134.0 L273.4,1132.4 L273.8,1130.8 L274.3,1129.2 L274.8,1127.6 L275.3,1126.0 L275.8,1124.4 L276.3,1122.8 L276.8,1121.2 L277.3,1119.6 L277.7,1118.0 L278.2,1116.4 L278.7,1114.8 L279.2,1113.2 L279.7,1111.6 L280.2,1110.0 L280.7,1108.4 L281.1,1106.8 L281.6,1105.2 L282.1,1103.6 L282.6,1102.0 L283.1,1100.4 L283.6,1098.8 L284.1,1097.2 L284.5,1095.6 L285.0,1094.0 L285.5,1092.4 L286.0,1090.8 L286.5,1089.2 L287.0,1087.6 L287.4,1086.0 L287.9,1084.4 L288.4,1082.8 L288.9,1081.2 L289.4,1079.6 L289.9,1078.0 L290.4,1076.4 L290.8,1074.8 L291.3,1073.2 L291.8,1071.6 L292.3,1070.0 L292.8,1068.4 L293.3,1066.8 L293.7,1065.2 L294.2,1063.6 L294.7,1062.0 L295.2,1060.4 L295.7,1058.8 L296.2,1057.2 L296.6,1055.6 L297.1,1054.0 L297.6,1052.4 L298.1,1050.8 L298.6,1049.2 L299.1,1047.6 L299.6,1046.0 L300.0,1044.4 L300.5,1042.8 L301.0,1041.2 L301.5,1039.6 L302.0,1038.0 L302.5,1036.4 L303.0,1034.8 L303.5,1033.2 L303.9,1031.6 L304.4,1030.0 L304.9,1028.4 L305.4,1026.8 L305.9,1025.2 L306.4,1023.6 L306.9,1022.0 L307.4,1020.4 L307.8,1018.8 L308.3,1017.3 L308.8,1015.7 L309.3,1014.1 L309.8,1012.5 L310.3,1010.9 L310.8,1009.3 L311.3,1007.7 L311.8,1006.1 L312.3,1004.5 L312.8,1002.9 L313.3,1001.3 L313.8,999.7 L314.2,998.1 L314.7,996.5 L315.2,994.9 L315.7,993.3 L316.2,991.7 L316.7,990.1 L317.2,988.5 L317.7,986.9 L318.2,985.3 L318.7,983.7 L319.2,982.1 L319.7,980.5 L320.2,978.9 L320.7,977.3 L321.2,975.8 L321.7,974.2 L322.2,972.6 L322.7,971.0 L323.2,969.4 L323.7,967.8 L324.2,966.2 L324.7,964.6 L325.3,963.0 L325.8,961.4 L326.3,959.8 L326.8,958.2 L327.3,956.6 L327.8,955.0 L328.3,953.4 L328.8,951.9 L329.3,950.3 L329.8,948.7 L330.4,947.1 L330.9,945.5 L331.4,943.9 L331.9,942.3 L332.4,940.7 L332.9,939.1 L333.4,937.5 L334.0,935.9 L334.5,934.4 L335.0,932.8 L335.5,931.2 L336.0,929.6 L336.6,928.0 L337.1,926.4 L337.6,924.8 L338.1,923.2 L338.7,921.6 L339.2,920.1 L339.7,918.5 L340.2,916.9 L340.8,915.3 L341.3,913.7 L341.8,912.1 L342.4,910.5 L342.9,909.0 L343.4,907.4 L344.0,905.8 L344.5,904.2 L345.0,902.6 L345.6,901.0 L346.1,899.4 L346.6,897.9 L347.2,896.3 L347.7,894.7 L348.3,893.1 L348.8,891.5 L349.4,889.9 L349.9,888.4 L350.5,886.8 L351.0,885.2 L351.5,883.6 L352.1,882.0 L352.7,880.5 L353.2,878.9 L353.8,877.3 L354.3,875.7 L354.9,874.2 L355.5,872.6 L356.1,871.0 L356.7,869.5 L357.3,867.9 L357.9,866.3 L358.5,864.8 L359.1,863.2 L359.7,861.7 L360.3,860.1 L361.0,858.6 L361.6,857.0 L362.3,855.5 L363.0,854.0 L363.6,852.4 L364.3,850.9 L365.0,849.4 L365.8,847.9 L366.5,846.4 L367.2,844.9 L368.0,843.4 L368.8,841.9 L369.5,840.4 L370.3,838.9 L371.2,837.5 L372.0,836.0 L372.8,834.5 L373.7,833.1 L374.6,831.6 L375.5,830.2 L376.4,828.8 L377.3,827.4 L378.3,826.0 L379.2,824.6 L380.2,823.3 L381.2,821.9 L382.2,820.6 L383.3,819.3 L384.3,818.0 L385.4,816.7 L386.5,815.5 L387.6,814.3 L388.8,813.1 L390.0,811.9 L391.1,810.8 L392.4,809.7 L393.6,808.6 L394.8,807.6 L396.1,806.6 L397.4,805.6 L398.7,804.6 L400.1,803.7 L401.5,802.8 L402.9,802.0 L404.3,801.2 L405.7,800.4 L407.2,799.7 L408.7,799.0 L410.2,798.4 L411.8,797.8 L413.3,797.2 L414.9,796.7 L416.5,796.1 L418.1,795.7 L419.7,795.2 L421.3,794.8 L423.0,794.5 L424.6,794.1 L426.3,793.8 L428.0,793.6 L429.7,793.3 L431.4,793.1 L433.1,793.0 L434.8,792.8 L436.5,792.7 L438.2,792.6 L439.9,792.6 L441.7,792.6 L443.4,792.6 L445.1,792.6 L446.8,792.7 L448.5,792.8 L450.2,792.9 L451.9,793.0 L453.6,793.2 L455.3,793.4 L457.0,793.6 L458.7,793.8 L460.4,794.1 L462.0,794.4 L463.7,794.7 L465.3,795.1 L466.9,795.4 L468.6,795.8 L470.2,796.2 L471.8,796.6 L473.4,797.0 L475.0,797.5 L476.6,797.9 L478.2,798.4 L479.7,798.9 L481.3,799.4 L482.9,799.9 L484.5,800.4 L486.0,800.9 L487.6,801.5 L489.2,802.0 L490.7,802.6 L492.3,803.1 L493.8,803.7 L495.4,804.2 L497.0,804.8 L498.5,805.4 L500.1,805.9 L501.6,806.5 L503.2,807.1 L504.8,807.6 L506.3,808.2 L507.9,808.7 L509.5,809.3 L511.1,809.8 L512.6,810.4 L514.2,810.9 L515.8,811.4 L517.4,812.0 L519.0,812.5 L520.6,812.9 L522.2,813.4 L523.8,813.9 L525.5,814.3 L527.1,814.8 L528.8,815.2 L530.4,815.6 L532.1,815.9 L533.7,816.3 L535.4,816.6 L537.0,816.8 L538.7,817.0 L540.4,817.2 L542.0,817.3 L543.7,817.4 L545.3,817.4 L547.0,817.3 L548.6,817.2 L550.3,817.1 L551.9,816.8 L553.5,816.5 L555.1,816.1 L556.7,815.7 L558.2,815.2 L559.8,814.6 L561.3,814.0 L562.8,813.3 L564.2,812.6 L565.6,811.8 L567.0,811.0 L568.4,810.1 L569.6,809.1 L570.9,808.1 L572.1,807.1 L573.3,806.0 L574.4,804.8 L575.5,803.7 L576.6,802.4 L577.6,801.2 L578.6,799.9 L579.6,798.5 L580.6,797.2 L581.5,795.8 L582.4,794.4 L583.2,792.9 L584.1,791.4 L584.9,789.9 L585.7,788.4 L586.4,786.9 L587.2,785.3 L587.9,783.8 L588.6,782.2 L589.3,780.6 L590.0,779.0 L590.7,777.4 L591.3,775.8 L592.0,774.2 L592.6,772.6 L593.2,770.9 L593.8,769.3 L594.4,767.7 L595.0,766.1 L595.6,764.5 L596.2,762.9 L596.7,761.3 L597.3,759.7 L597.8,758.1 L598.4,756.5 L598.9,754.9 L599.4,753.3 L600.0,751.7 L600.5,750.1 L601.0,748.5 L601.5,746.9 L602.0,745.3 L602.5,743.7 L603.0,742.1 L603.5,740.5 L603.9,738.9 L604.4,737.3 L604.9,735.7 L605.4,734.1 L605.8,732.5 L606.3,731.0 L606.7,729.4 L607.2,727.8 L607.7,726.2 L608.1,724.6 L608.6,723.0 L609.0,721.4 L609.5,719.9 L609.9,718.3 L610.4,716.7 L610.8,715.1 L611.3,713.5 L611.7,711.9 L612.2,710.4 L612.6,708.8 L613.0,707.2 L613.5,705.6 L613.9,704.0 L614.4,702.4 L614.8,700.9 L615.2,699.3 L615.7,697.7 L616.1,696.1 L616.5,694.5 L617.0,692.9 L617.4,691.3 L617.8,689.7 L618.2,688.1 L618.7,686.5 L619.1,684.9 L619.5,683.3 L619.9,681.7 L620.3,680.1 L620.7,678.4 L621.1,676.8 L621.5,675.2 L621.9,673.6 L622.3,671.9 L622.7,670.3 L623.1,668.7 L623.5,667.0 L623.8,665.4 L624.2,663.7 L624.6,662.1 L625.0,660.4 L625.3,658.8 L625.7,657.1 L626.1,655.4 L626.5,653.8 L626.8,652.1 L627.2,650.4 L627.6,648.8 L628.0,647.1 L628.4,645.4 L628.8,643.8 L629.2,642.1 L629.6,640.4 L630.0,638.8 L630.4,637.1 L630.9,635.5 L631.3,633.8 L631.7,632.2 L632.2,630.5 L632.7,628.9 L633.2,627.3 L633.6,625.7 L634.1,624.1 L634.7,622.4 L635.2,620.8 L635.7,619.3 L636.3,617.7 L636.9,616.1 L637.5,614.5 L638.1,613.0 L638.7,611.4 L639.4,609.9 L640.0,608.4 L640.7,606.9 L641.4,605.4 L642.1,603.9 L642.9,602.4 L643.7,600.9 L644.5,599.5 L645.3,598.0 L646.1,596.6 L647.0,595.2 L647.9,593.8 L648.8,592.5 L649.7,591.1 L650.7,589.8 L651.7,588.4 L652.7,587.1 L653.8,585.8 L654.9,584.6 L656.0,583.3 L657.1,582.1 L658.3,580.9 L659.5,579.7 L660.7,578.6 L661.9,577.5 L663.2,576.4 L664.5,575.3 L665.8,574.3 L667.1,573.3 L668.5,572.4 L669.9,571.5 L671.3,570.6 L672.7,569.8 L674.1,569.1 L675.6,568.3 L677.1,567.7 L678.6,567.0 L680.1,566.5 L681.6,566.0 L683.2,565.5 L684.8,565.1 L686.3,564.8 L687.9,564.5 L689.6,564.3 L691.2,564.1 L692.8,564.0 L694.5,564.0 L696.1,564.0 L697.8,564.1 L699.5,564.3 L701.2,564.5 L702.8,564.8 L704.5,565.1 L706.2,565.4 L707.9,565.8 L709.6,566.3 L711.3,566.7 L712.9,567.2 L714.6,567.8 L716.2,568.3 L717.9,568.9 L719.5,569.5 L721.1,570.1 L722.7,570.7 L724.3,571.3 L725.8,571.9 L727.4,572.6 L728.9,573.2 L730.4,573.9 L731.9,574.5 L733.4,575.2 L734.9,575.8 L736.4,576.5 L737.9,577.1 L739.4,577.7 L740.9,578.4 L742.4,579.0 L743.9,579.6 L745.4,580.3 L746.9,580.9 L748.4,581.5 L750.0,582.0 L751.5,582.6 L753.1,583.2 L754.6,583.7 L756.2,584.2 L757.8,584.7 L759.4,585.2 L761.0,585.6 L762.7,586.1 L764.3,586.5 L766.0,586.9 L767.6,587.2 L769.3,587.6 L771.0,587.9 L772.7,588.2 L774.4,588.5 L776.1,588.7 L777.9,588.9 L779.6,589.1 L781.3,589.3 L783.1,589.5 L784.8,589.6 L786.5,589.7 L788.3,589.7 L790.0,589.8 L791.7,589.8 L793.5,589.8 L795.2,589.7 L796.9,589.7 L798.6,589.5 L800.3,589.4 L802.0,589.2 L803.7,589.0 L805.4,588.8 L807.1,588.5 L808.7,588.2 L810.4,587.9 L812.0,587.6 L813.6,587.2 L815.3,586.7 L816.8,586.3 L818.4,585.8 L820.0,585.2 L821.5,584.6 L823.0,584.0 L824.5,583.4 L826.0,582.7 L827.4,582.0 L828.9,581.2 L830.3,580.4 L831.7,579.6 L833.0,578.8 L834.4,577.9 L835.7,577.0 L837.0,576.0 L838.3,575.0 L839.6,574.0 L840.8,573.0 L842.1,571.9 L843.3,570.8 L844.5,569.7 L845.6,568.6 L846.8,567.4 L847.9,566.2 L849.0,565.0 L850.1,563.8 L851.2,562.5 L852.3,561.2 L853.4,559.9 L854.4,558.6 L855.4,557.3 L856.4,555.9 L857.4,554.6 L858.4,553.2 L859.3,551.8 L860.2,550.4 L861.2,549.0 L862.1,547.5 L863.0,546.1 L863.8,544.7 L864.7,543.2 L865.5,541.7 L866.4,540.2 L867.2,538.8 L868.0,537.3 L868.8,535.8 L869.6,534.3 L870.3,532.8 L871.1,531.3 L871.8,529.7 L872.6,528.2 L873.3,526.7 L874.0,525.2 L874.7,523.7 L875.4,522.1 L876.1,520.6 L876.7,519.0 L877.4,517.5 L878.0,516.0 L878.6,514.4 L879.3,512.9 L879.9,511.3 L880.5,509.7 L881.1,508.2 L881.7,506.6 L882.3,505.1 L882.8,503.5 L883.4,501.9 L883.9,500.3 L884.5,498.8 L885.0,497.2 L885.6,495.6 L886.1,494.0 L886.6,492.5 L887.2,490.9 L887.7,489.3 L888.2,487.7 L888.7,486.1 L889.2,484.5 L889.7,482.9 L890.2,481.3 L890.6,479.7 L891.1,478.1 L891.6,476.5 L892.1,474.9 L892.6,473.3 L893.0,471.7 L893.5,470.1 L894.0,468.5 L894.4,466.9 L894.9,465.3 L895.4,463.7 L895.8,462.1 L896.3,460.5 L896.7,458.9 L897.2,457.3 L897.7,455.7 L898.1,454.1 L898.6,452.5 L899.0,450.9 L899.5,449.3 L900.0,447.6 L900.4,446.0 L900.9,444.4 L901.3,442.8 L901.8,441.2 L902.3,439.6 L902.7,438.0 L903.2,436.4 L903.7,434.8 L904.1,433.2 L904.6,431.6 L905.1,430.0 L905.6,428.4 L906.0,426.8 L906.5,425.2 L907.0,423.6 L907.4,422.0 L907.9,420.4 L908.4,418.8 L908.9,417.2 L909.3,415.6 L909.8,414.0 L910.3,412.4 L910.8,410.8 L911.2,409.2 L911.7,407.6 L912.2,406.0 L912.7,404.4 L913.2,402.8 L913.6,401.2 L914.1,399.6 L914.6,398.0 L915.1,396.4 L915.6,394.8 L916.0,393.2 L916.5,391.6 L917.0,390.0 L917.5,388.4 L918.0,386.8 L918.5,385.2 L918.9,383.6 L919.4,382.0 L919.9,380.4 L920.4,378.8 L920.9,377.2 L921.4,375.6 L921.9,374.0 L922.3,372.4 L922.8,370.8 L923.3,369.2 L923.8,367.6 L924.3,366.0 L924.8,364.4 L925.3,362.8 L925.8,361.2 L926.3,359.6 L926.7,358.0 L927.2,356.4 L927.7,354.8 L928.2,353.2 L928.7,351.6 L929.2,350.0 L929.7,348.4 L930.2,346.8 L930.7,345.2 L931.2,343.6 L931.7,342.0 L932.2,340.4 L932.6,338.8 L933.1,337.2 L933.6,335.6 L934.1,334.0 L934.6,332.4 L935.1,330.8 L935.6,329.2 L936.1,327.6 L936.6,326.0 L937.1,324.4 L937.6,322.8 L938.1,321.2 L938.6,319.6 L939.1,318.0 L939.6,316.4 L940.1,314.8 L940.6,313.2 L941.1,311.6 L941.6,310.0 L942.0,308.5 L942.5,306.9 L943.0,305.3 L943.5,303.7 L944.0,302.1 L944.5,300.5 L945.0,298.9 L945.5,297.3 L946.0,295.7 L946.5,294.1 L947.0,292.5 L947.5,290.9 L948.0,289.3 L948.5,287.7 L949.0,286.1 L949.5,284.5 L950.0,282.9 L950.5,281.3 L951.0,279.7 L951.5,278.1 L952.0,276.5 L952.5,274.9 L953.0,273.3 L953.5,271.7 L954.0,270.1 L954.5,268.5 L954.9,266.9 L955.4,265.3 L955.9,263.7 L956.4,262.1 L956.9,260.6 L957.4,259.0 L957.9,257.4 L958.4,255.8 L958.9,254.2 L959.4,252.6 L959.9,251.0 L960.4,249.4 L960.9,247.8 L961.4,246.2 L961.9,244.6 L962.4,243.0 L962.9,241.4 L963.3,239.8 L963.8,238.2 L964.3,236.6 L964.8,235.0 L965.3,233.4 L965.8,231.8 L966.3,230.2 L966.8,228.6 L967.3,227.0 L967.8,225.4 L968.3,223.8 L968.8,222.2 L969.2,220.6 L969.7,219.0 L970.2,217.4 L970.7,215.8 L971.2,214.2 L971.7,212.6 L972.2,211.0 L972.7,209.4 L973.1,207.8 L973.6,206.2 L974.1,204.6 L974.6,203.0 L975.1,201.4 L975.6,199.8 L976.1,198.2 L976.5,196.6 L977.0,195.0 L977.5,193.4 L978.0,191.8 L978.5,190.2 L979.0,188.6 L979.4,187.0 L979.9,185.4 L980.4,183.8 L980.9,182.2 L981.4,180.6 L981.8,179.0 L982.3,177.4 L982.8,175.8 L983.3,174.2 L983.7,172.6 L984.2,171.0 L984.7,169.4 L985.2,167.8 L985.6,166.2 L986.1,164.6 L986.5,163.0" fill="none" stroke="#0f0" stroke-width="10.3" stroke-linejoin="round" stroke-linecap="butt" clip-path="url(#ca)"/>
<path d="M247.0,1213.0 L247.7,1211.5 L248.3,1210.0 L248.8,1208.5 L249.4,1207.0 L250.0,1205.5 L250.5,1203.9 L251.1,1202.4 L251.6,1200.9 L252.2,1199.4 L252.8,1197.9 L253.3,1196.3 L253.9,1194.8 L254.4,1193.3 L255.0,1191.8 L255.5,1190.3 L256.1,1188.7 L256.6,1187.2 L257.2,1185.7 L257.7,1184.2 L258.3,1182.6 L258.8,1181.1 L259.3,1179.6 L259.9,1178.0 L260.4,1176.5 L261.0,1175.0 L261.5,1173.5 L262.0,1171.9 L262.6,1170.4 L263.1,1168.9 L263.6,1167.4 L264.1,1165.8 L264.7,1164.3 L265.2,1162.8 L265.7,1161.2 L266.3,1159.7 L266.8,1158.2 L267.3,1156.6 L267.8,1155.1 L268.3,1153.6 L268.9,1152.0 L269.4,1150.5 L269.9,1149.0 L270.4,1147.4 L270.9,1145.9 L271.4,1144.4 L271.9,1142.8 L272.5,1141.3 L273.0,1139.8 L273.5,1138.2 L274.0,1136.7 L274.5,1135.2 L275.0,1133.6 L275.5,1132.1 L276.0,1130.5 L276.5,1129.0 L277.0,1127.5 L277.5,1125.9 L278.0,1124.4 L278.5,1122.9 L279.0,1121.3 L279.5,1119.8 L280.0,1118.2 L280.5,1116.7 L281.0,1115.2 L281.5,1113.6 L282.0,1112.1 L282.5,1110.5 L283.0,1109.0 L283.5,1107.5 L284.0,1105.9 L284.5,1104.4 L285.0,1102.8 L285.5,1101.3 L286.0,1099.8 L286.5,1098.2 L287.0,1096.7 L287.4,1095.1 L287.9,1093.6 L288.4,1092.0 L288.9,1090.5 L289.4,1089.0 L289.9,1087.4 L290.4,1085.9 L290.9,1084.3 L291.4,1082.8 L291.8,1081.2 L292.3,1079.7 L292.8,1078.2 L293.3,1076.6 L293.8,1075.1 L294.3,1073.5 L294.8,1072.0 L295.3,1070.4 L295.7,1068.9 L296.2,1067.4 L296.7,1065.8 L297.2,1064.3 L297.7,1062.7 L298.2,1061.2 L298.7,1059.6 L299.1,1058.1 L299.6,1056.6 L300.1,1055.0 L300.6,1053.5 L301.1,1051.9 L301.6,1050.4 L302.0,1048.8 L302.5,1047.3 L303.0,1045.7 L303.5,1044.2 L304.0,1042.7 L304.5,1041.1 L305.0,1039.6 L305.4,1038.0 L305.9,1036.5 L306.4,1034.9 L306.9,1033.4 L307.4,1031.8 L307.9,1030.3 L308.4,1028.8 L308.8,1027.2 L309.3,1025.7 L309.8,1024.1 L310.3,1022.6 L310.8,1021.0 L311.3,1019.5 L311.8,1017.9 L312.3,1016.4 L312.8,1014.9 L313.3,1013.3 L313.7,1011.8 L314.2,1010.2 L314.7,1008.7 L315.2,1007.1 L315.7,1005.6 L316.2,1004.1 L316.7,1002.5 L317.2,1001.0 L317.7,999.4 L318.2,997.9 L318.7,996.3 L319.2,994.8 L319.7,993.3 L320.2,991.7 L320.7,990.2 L321.2,988.6 L321.7,987.1 L322.2,985.5 L322.7,984.0 L323.2,982.5 L323.7,980.9 L324.2,979.4 L324.7,977.8 L325.2,976.3 L325.7,974.8 L326.2,973.2 L326.7,971.7 L327.2,970.2 L327.8,968.6 L328.3,967.1 L328.8,965.5 L329.3,964.0 L329.8,962.5 L330.4,960.9 L330.9,959.4 L331.4,957.9 L331.9,956.3 L332.5,954.8 L333.0,953.3 L333.5,951.8 L334.1,950.2 L334.6,948.7 L335.2,947.2 L335.7,945.7 L336.3,944.1 L336.8,942.6 L337.4,941.1 L337.9,939.6 L338.5,938.1 L339.1,936.5 L339.6,935.0 L340.2,933.5 L340.8,932.0 L341.4,930.5 L342.0,929.0 L342.5,927.5 L343.1,926.0 L343.7,924.5 L344.3,923.0 L344.9,921.5 L345.6,920.0 L346.2,918.5 L346.8,917.0 L347.4,915.5 L348.0,914.0 L348.7,912.5 L349.3,911.1 L350.0,909.6 L350.6,908.1 L351.3,906.6 L351.9,905.1 L352.6,903.7 L353.3,902.2 L353.9,900.7 L354.6,899.3 L355.3,897.8 L356.0,896.4 L356.7,894.9 L357.4,893.5 L358.1,892.0 L358.9,890.6 L359.6,889.1 L360.3,887.7 L361.0,886.2 L361.8,884.8 L362.5,883.4 L363.3,881.9 L364.1,880.5 L364.8,879.1 L365.6,877.7 L366.4,876.3 L367.2,874.8 L368.0,873.4 L368.8,872.0 L369.6,870.6 L370.4,869.2 L371.3,867.8 L372.1,866.4 L373.0,865.1 L373.8,863.7 L374.7,862.3 L375.6,860.9 L376.4,859.5 L377.3,858.2 L378.2,856.8 L379.1,855.5 L380.0,854.1 L381.0,852.8 L381.9,851.4 L382.8,850.1 L383.8,848.8 L384.8,847.5 L385.8,846.2 L386.8,844.9 L387.8,843.6 L388.8,842.4 L389.9,841.2 L390.9,840.0 L392.0,838.8 L393.1,837.6 L394.2,836.4 L395.4,835.3 L396.5,834.2 L397.7,833.1 L398.9,832.1 L400.1,831.0 L401.3,830.0 L402.6,829.1 L403.9,828.1 L405.2,827.2 L406.5,826.3 L407.9,825.5 L409.3,824.7 L410.7,823.9 L412.1,823.1 L413.6,822.4 L415.1,821.8 L416.6,821.1 L418.1,820.5 L419.7,820.0 L421.2,819.4 L422.8,818.9 L424.4,818.5 L426.0,818.0 L427.6,817.7 L429.2,817.3 L430.8,817.0 L432.4,816.7 L434.0,816.4 L435.6,816.2 L437.2,816.0 L438.8,815.8 L440.4,815.7 L441.9,815.6 L443.5,815.5 L445.1,815.4 L446.7,815.4 L448.3,815.4 L449.9,815.4 L451.5,815.5 L453.1,815.5 L454.6,815.6 L456.2,815.7 L457.8,815.9 L459.4,816.0 L461.0,816.2 L462.6,816.4 L464.1,816.6 L465.7,816.8 L467.3,817.0 L468.9,817.3 L470.5,817.6 L472.1,817.8 L473.7,818.1 L475.2,818.4 L476.8,818.7 L478.4,819.1 L480.0,819.4 L481.6,819.7 L483.2,820.1 L484.8,820.5 L486.4,820.8 L488.0,821.2 L489.6,821.6 L491.2,822.0 L492.8,822.3 L494.4,822.7 L496.1,823.1 L497.7,823.5 L499.3,823.9 L500.9,824.3 L502.5,824.7 L504.2,825.0 L505.8,825.4 L507.4,825.8 L509.1,826.2 L510.7,826.5 L512.3,826.9 L514.0,827.2 L515.6,827.6 L517.3,827.9 L518.9,828.2 L520.5,828.5 L522.2,828.7 L523.8,829.0 L525.4,829.2 L527.0,829.4 L528.6,829.5 L530.2,829.6 L531.8,829.7 L533.4,829.8 L535.0,829.8 L536.6,829.8 L538.1,829.7 L539.7,829.6 L541.2,829.4 L542.7,829.2 L544.2,829.0 L545.7,828.7 L547.2,828.3 L548.7,827.9 L550.1,827.4 L551.5,826.9 L552.9,826.3 L554.3,825.7 L555.7,825.0 L557.0,824.2 L558.4,823.4 L559.7,822.5 L561.0,821.6 L562.2,820.6 L563.5,819.6 L564.7,818.5 L565.9,817.4 L567.1,816.3 L568.3,815.2 L569.4,814.0 L570.5,812.7 L571.6,811.5 L572.7,810.2 L573.7,808.9 L574.8,807.5 L575.8,806.2 L576.7,804.8 L577.7,803.4 L578.6,802.1 L579.5,800.7 L580.4,799.2 L581.3,797.8 L582.1,796.4 L582.9,795.0 L583.7,793.5 L584.5,792.1 L585.2,790.6 L585.9,789.2 L586.6,787.7 L587.3,786.2 L588.0,784.8 L588.6,783.3 L589.3,781.8 L589.9,780.3 L590.5,778.8 L591.1,777.3 L591.7,775.8 L592.2,774.3 L592.8,772.8 L593.3,771.3 L593.9,769.8 L594.4,768.2 L594.9,766.7 L595.4,765.2 L595.9,763.6 L596.4,762.1 L596.9,760.6 L597.4,759.0 L597.9,757.5 L598.3,755.9 L598.8,754.4 L599.3,752.8 L599.8,751.3 L600.2,749.7 L600.7,748.2 L601.2,746.6 L601.6,745.1 L602.1,743.5 L602.6,742.0 L603.0,740.4 L603.5,738.9 L604.0,737.3 L604.5,735.7 L605.0,734.2 L605.4,732.6 L605.9,731.1 L606.4,729.5 L606.9,727.9 L607.3,726.4 L607.8,724.8 L608.3,723.3 L608.8,721.7 L609.3,720.1 L609.7,718.6 L610.2,717.0 L610.7,715.5 L611.1,713.9 L611.6,712.3 L612.1,710.8 L612.5,709.2 L613.0,707.6 L613.4,706.1 L613.9,704.5 L614.3,703.0 L614.8,701.4 L615.2,699.8 L615.6,698.3 L616.1,696.7 L616.5,695.1 L616.9,693.6 L617.3,692.0 L617.8,690.5 L618.2,688.9 L618.6,687.3 L619.0,685.8 L619.4,684.2 L619.7,682.6 L620.1,681.1 L620.5,679.5 L620.9,678.0 L621.2,676.4 L621.6,674.9 L622.0,673.3 L622.3,671.7 L622.7,670.2 L623.0,668.6 L623.4,667.1 L623.7,665.5 L624.1,664.0 L624.4,662.4 L624.8,660.8 L625.1,659.3 L625.5,657.7 L625.8,656.2 L626.2,654.6 L626.5,653.1 L626.9,651.5 L627.3,650.0 L627.6,648.4 L628.0,646.9 L628.4,645.3 L628.8,643.8 L629.2,642.2 L629.6,640.7 L630.0,639.1 L630.4,637.6 L630.8,636.0 L631.2,634.5 L631.6,632.9 L632.1,631.4 L632.5,629.8 L633.0,628.3 L633.5,626.7 L634.0,625.2 L634.4,623.6 L634.9,622.1 L635.5,620.6 L636.0,619.0 L636.5,617.5 L637.1,615.9 L637.7,614.4 L638.2,612.9 L638.8,611.3 L639.4,609.8 L640.1,608.2 L640.7,606.7 L641.4,605.2 L642.0,603.6 L642.7,602.1 L643.5,600.6 L644.2,599.0 L644.9,597.5 L645.7,596.0 L646.5,594.5 L647.3,592.9 L648.1,591.4 L648.9,590.0 L649.8,588.5 L650.6,587.0 L651.5,585.6 L652.4,584.1 L653.3,582.7 L654.3,581.3 L655.2,579.9 L656.2,578.6 L657.2,577.2 L658.2,575.9 L659.2,574.6 L660.3,573.3 L661.3,572.1 L662.4,570.9 L663.5,569.7 L664.6,568.5 L665.7,567.4 L666.9,566.3 L668.0,565.3 L669.2,564.2 L670.4,563.3 L671.6,562.3 L672.9,561.4 L674.1,560.5 L675.4,559.7 L676.7,558.9 L678.0,558.2 L679.3,557.5 L680.6,556.8 L682.0,556.2 L683.4,555.7 L684.7,555.2 L686.2,554.7 L687.6,554.3 L689.0,553.9 L690.5,553.6 L691.9,553.4 L693.4,553.1 L694.9,553.0 L696.5,552.8 L698.0,552.7 L699.5,552.6 L701.1,552.6 L702.6,552.6 L704.2,552.7 L705.8,552.7 L707.4,552.8 L709.0,553.0 L710.6,553.1 L712.2,553.3 L713.9,553.6 L715.5,553.8 L717.1,554.0 L718.8,554.3 L720.4,554.6 L722.1,555.0 L723.8,555.3 L725.4,555.6 L727.1,556.0 L728.8,556.4 L730.4,556.8 L732.1,557.2 L733.8,557.6 L735.5,558.0 L737.2,558.4 L738.8,558.8 L740.5,559.3 L742.2,559.7 L743.9,560.1 L745.5,560.6 L747.2,561.0 L748.9,561.4 L750.5,561.8 L752.2,562.2 L753.8,562.6 L755.5,563.0 L757.1,563.4 L758.7,563.8 L760.4,564.1 L762.0,564.5 L763.6,564.8 L765.2,565.1 L766.8,565.4 L768.4,565.7 L770.0,565.9 L771.6,566.1 L773.1,566.4 L774.7,566.5 L776.3,566.7 L777.8,566.9 L779.4,567.0 L781.0,567.1 L782.5,567.2 L784.1,567.2 L785.6,567.2 L787.1,567.2 L788.7,567.2 L790.2,567.2 L791.8,567.1 L793.3,566.9 L794.9,566.8 L796.4,566.6 L797.9,566.4 L799.5,566.1 L801.0,565.9 L802.5,565.5 L804.1,565.2 L805.6,564.8 L807.2,564.3 L808.7,563.9 L810.2,563.4 L811.8,562.8 L813.3,562.3 L814.8,561.7 L816.3,561.0 L817.8,560.3 L819.3,559.6 L820.8,558.9 L822.2,558.2 L823.7,557.4 L825.1,556.5 L826.4,555.7 L827.8,554.8 L829.2,553.9 L830.5,553.0 L831.8,552.1 L833.1,551.1 L834.3,550.1 L835.6,549.1 L836.8,548.0 L838.0,547.0 L839.2,545.9 L840.3,544.8 L841.5,543.7 L842.6,542.5 L843.7,541.4 L844.8,540.2 L845.9,539.0 L847.0,537.8 L848.0,536.6 L849.1,535.3 L850.1,534.1 L851.1,532.8 L852.1,531.5 L853.1,530.2 L854.0,528.9 L855.0,527.5 L855.9,526.2 L856.8,524.9 L857.7,523.5 L858.6,522.1 L859.5,520.7 L860.4,519.4 L861.3,518.0 L862.1,516.6 L862.9,515.1 L863.8,513.7 L864.6,512.3 L865.4,510.9 L866.2,509.4 L867.0,508.0 L867.8,506.6 L868.5,505.1 L869.3,503.7 L870.1,502.2 L870.8,500.8 L871.6,499.3 L872.3,497.9 L873.0,496.4 L873.7,495.0 L874.4,493.5 L875.1,492.0 L875.8,490.6 L876.5,489.1 L877.2,487.6 L877.9,486.1 L878.5,484.7 L879.2,483.2 L879.8,481.7 L880.5,480.2 L881.1,478.7 L881.8,477.2 L882.4,475.8 L883.0,474.3 L883.6,472.8 L884.2,471.3 L884.9,469.8 L885.5,468.3 L886.1,466.8 L886.6,465.3 L887.2,463.8 L887.8,462.3 L888.4,460.8 L889.0,459.3 L889.5,457.8 L890.1,456.2 L890.7,454.7 L891.2,453.2 L891.8,451.7 L892.3,450.2 L892.9,448.7 L893.4,447.1 L893.9,445.6 L894.5,444.1 L895.0,442.6 L895.5,441.1 L896.1,439.5 L896.6,438.0 L897.1,436.5 L897.6,435.0 L898.2,433.4 L898.7,431.9 L899.2,430.4 L899.7,428.8 L900.2,427.3 L900.7,425.8 L901.2,424.3 L901.8,422.7 L902.3,421.2 L902.8,419.7 L903.3,418.1 L903.8,416.6 L904.3,415.1 L904.8,413.5 L905.3,412.0 L905.8,410.5 L906.3,408.9 L906.8,407.4 L907.3,405.8 L907.8,404.3 L908.3,402.8 L908.8,401.2 L909.3,399.7 L909.8,398.2 L910.3,396.6 L910.8,395.1 L911.3,393.6 L911.8,392.0 L912.3,390.5 L912.8,388.9 L913.3,387.4 L913.8,385.9 L914.3,384.3 L914.8,382.8 L915.3,381.2 L915.8,379.7 L916.3,378.2 L916.8,376.6 L917.3,375.1 L917.8,373.5 L918.3,372.0 L918.8,370.5 L919.3,368.9 L919.8,367.4 L920.3,365.8 L920.8,364.3 L921.3,362.8 L921.8,361.2 L922.2,359.7 L922.7,358.1 L923.2,356.6 L923.7,355.0 L924.2,353.5 L924.7,352.0 L925.2,350.4 L925.7,348.9 L926.2,347.3 L926.7,345.8 L927.2,344.3 L927.7,342.7 L928.2,341.2 L928.7,339.6 L929.2,338.1 L929.7,336.5 L930.2,335.0 L930.7,333.4 L931.2,331.9 L931.6,330.4 L932.1,328.8 L932.6,327.3 L933.1,325.7 L933.6,324.2 L934.1,322.6 L934.6,321.1 L935.1,319.6 L935.6,318.0 L936.1,316.5 L936.6,314.9 L937.1,313.4 L937.6,311.8 L938.1,310.3 L938.6,308.8 L939.1,307.2 L939.6,305.7 L940.1,304.1 L940.6,302.6 L941.1,301.0 L941.5,299.5 L942.0,297.9 L942.5,296.4 L943.0,294.9 L943.5,293.3 L944.0,291.8 L944.5,290.2 L945.0,288.7 L945.5,287.1 L946.0,285.6 L946.5,284.1 L947.0,282.5 L947.5,281.0 L948.0,279.4 L948.5,277.9 L949.0,276.4 L949.5,274.8 L950.0,273.3 L950.5,271.7 L951.0,270.2 L951.5,268.6 L952.0,267.1 L952.5,265.6 L953.0,264.0 L953.5,262.5 L954.0,260.9 L954.6,259.4 L955.1,257.9 L955.6,256.3 L956.1,254.8 L956.6,253.2 L957.1,251.7 L957.6,250.2 L958.1,248.6 L958.6,247.1 L959.1,245.6 L959.6,244.0 L960.1,242.5 L960.6,240.9 L961.1,239.4 L961.7,237.9 L962.2,236.3 L962.7,234.8 L963.2,233.3 L963.7,231.7 L964.2,230.2 L964.7,228.6 L965.3,227.1 L965.8,225.6 L966.3,224.0 L966.8,222.5 L967.3,221.0 L967.8,219.4 L968.4,217.9 L968.9,216.4 L969.4,214.8 L969.9,213.3 L970.4,211.8 L971.0,210.2 L971.5,208.7 L972.0,207.2 L972.5,205.7 L973.0,204.1 L973.6,202.6 L974.1,201.1 L974.6,199.5 L975.1,198.0 L975.7,196.5 L976.2,195.0 L976.7,193.4 L977.3,191.9 L977.8,190.4 L978.3,188.8 L978.9,187.3 L979.4,185.8 L979.9,184.3 L980.5,182.7 L981.0,181.2 L981.5,179.7 L982.1,178.2 L982.6,176.7 L983.1,175.1 L983.7,173.6 L984.2,172.1 L984.8,170.6 L985.3,169.0 L985.9,167.5 L986.5,166.0" fill="none" stroke="#00f" stroke-width="10.3" stroke-linejoin="round" stroke-linecap="butt" clip-path="url(#ca)"/>
<path d="M1198.0,1141.0 L1199.2,1139.9 L1199.8,1138.5 L1200.4,1137.2 L1201.1,1135.8 L1201.7,1134.4 L1202.3,1133.0 L1202.9,1131.6 L1203.6,1130.2 L1204.2,1128.8 L1204.8,1127.5 L1205.4,1126.1 L1206.0,1124.7 L1206.6,1123.3 L1207.3,1121.9 L1207.9,1120.5 L1208.5,1119.1 L1209.1,1117.7 L1209.7,1116.3 L1210.3,1114.9 L1210.9,1113.5 L1211.5,1112.1 L1212.1,1110.7 L1212.7,1109.3 L1213.3,1107.9 L1213.8,1106.5 L1214.4,1105.1 L1215.0,1103.7 L1215.6,1102.3 L1216.2,1100.9 L1216.8,1099.5 L1217.3,1098.1 L1217.9,1096.7 L1218.5,1095.3 L1219.1,1093.9 L1219.6,1092.5 L1220.2,1091.1 L1220.8,1089.7 L1221.3,1088.3 L1221.9,1086.9 L1222.5,1085.5 L1223.0,1084.1 L1223.6,1082.7 L1224.2,1081.3 L1224.7,1079.9 L1225.3,1078.4 L1225.9,1077.0 L1226.4,1075.6 L1227.0,1074.2 L1227.5,1072.8 L1228.1,1071.4 L1228.6,1070.0 L1229.2,1068.6 L1229.7,1067.1 L1230.3,1065.7 L1230.8,1064.3 L1231.4,1062.9 L1231.9,1061.5 L1232.5,1060.1 L1233.0,1058.6 L1233.6,1057.2 L1234.1,1055.8 L1234.6,1054.4 L1235.2,1053.0 L1235.7,1051.5 L1236.3,1050.1 L1236.8,1048.7 L1237.3,1047.3 L1237.9,1045.9 L1238.4,1044.4 L1239.0,1043.0 L1239.5,1041.6 L1240.0,1040.2 L1240.6,1038.8 L1241.1,1037.3 L1241.6,1035.9 L1242.2,1034.5 L1242.7,1033.1 L1243.2,1031.6 L1243.8,1030.2 L1244.3,1028.8 L1244.8,1027.4 L1245.4,1025.9 L1245.9,1024.5 L1246.4,1023.1 L1247.0,1021.7 L1247.5,1020.2 L1248.0,1018.8 L1248.6,1017.4 L1249.1,1016.0 L1249.6,1014.5 L1250.1,1013.1 L1250.7,1011.7 L1251.2,1010.2 L1251.7,1008.8 L1252.3,1007.4 L1252.8,1006.0 L1253.3,1004.5 L1253.9,1003.1 L1254.4,1001.7 L1254.9,1000.3 L1255.5,998.8 L1256.0,997.4 L1256.5,996.0 L1257.1,994.5 L1257.6,993.1 L1258.1,991.7 L1258.7,990.3 L1259.2,988.8 L1259.7,987.4 L1260.3,986.0 L1260.8,984.5 L1261.3,983.1 L1261.9,981.7 L1262.4,980.3 L1263.0,978.8 L1263.5,977.4 L1264.0,976.0 L1264.6,974.6 L1265.1,973.1 L1265.7,971.7 L1266.2,970.3 L1266.8,968.9 L1267.3,967.4 L1267.8,966.0 L1268.4,964.6 L1268.9,963.2 L1269.5,961.7 L1270.0,960.3 L1270.6,958.9 L1271.1,957.5 L1271.7,956.1 L1272.3,954.6 L1272.8,953.2 L1273.4,951.8 L1273.9,950.4 L1274.5,949.0 L1275.1,947.6 L1275.6,946.1 L1276.2,944.7 L1276.8,943.3 L1277.3,941.9 L1277.9,940.5 L1278.5,939.1 L1279.0,937.7 L1279.6,936.3 L1280.2,934.8 L1280.8,933.4 L1281.3,932.0 L1281.9,930.6 L1282.5,929.2 L1283.1,927.8 L1283.7,926.4 L1284.3,925.0 L1284.9,923.6 L1285.5,922.2 L1286.0,920.8 L1286.6,919.4 L1287.2,918.0 L1287.8,916.6 L1288.4,915.2 L1289.1,913.8 L1289.7,912.5 L1290.3,911.1 L1290.9,909.7 L1291.5,908.3 L1292.1,906.9 L1292.7,905.5 L1293.4,904.1 L1294.0,902.8 L1294.6,901.4 L1295.2,900.0 L1295.9,898.6 L1296.5,897.2 L1297.1,895.9 L1297.8,894.5 L1298.4,893.1 L1299.1,891.8 L1299.7,890.4 L1300.3,889.0 L1301.0,887.7 L1301.7,886.3 L1302.3,884.9 L1303.0,883.6 L1303.6,882.2 L1304.3,880.9 L1305.0,879.5 L1305.6,878.1 L1306.3,876.8 L1307.0,875.4 L1307.7,874.1 L1308.4,872.7 L1309.0,871.4 L1309.7,870.0 L1310.4,868.7 L1311.1,867.3 L1311.8,866.0 L1312.5,864.6 L1313.2,863.3 L1313.9,861.9 L1314.6,860.6 L1315.4,859.2 L1316.1,857.9 L1316.8,856.5 L1317.5,855.2 L1318.3,853.8 L1319.0,852.5 L1319.7,851.1 L1320.5,849.8 L1321.2,848.4 L1322.0,847.1 L1322.7,845.7 L1323.5,844.4 L1324.2,843.1 L1325.0,841.7 L1325.8,840.4 L1326.6,839.1 L1327.4,837.7 L1328.2,836.4 L1329.0,835.1 L1329.8,833.8 L1330.6,832.5 L1331.5,831.2 L1332.3,830.0 L1333.2,828.7 L1334.1,827.4 L1335.0,826.2 L1335.9,825.0 L1336.8,823.7 L1337.7,822.5 L1338.7,821.3 L1339.6,820.1 L1340.6,819.0 L1341.6,817.8 L1342.6,816.7 L1343.6,815.6 L1344.6,814.4 L1345.7,813.4 L1346.8,812.3 L1347.8,811.2 L1349.0,810.2 L1350.1,809.2 L1351.2,808.2 L1352.4,807.2 L1353.6,806.3 L1354.8,805.4 L1356.0,804.5 L1357.3,803.7 L1358.5,802.8 L1359.8,802.0 L1361.1,801.3 L1362.4,800.6 L1363.8,799.9 L1365.1,799.3 L1366.5,798.7 L1367.9,798.1 L1369.4,797.6 L1370.8,797.1 L1372.3,796.7 L1373.7,796.3 L1375.2,796.0 L1376.7,795.7 L1378.2,795.4 L1379.7,795.2 L1381.2,795.0 L1382.7,794.8 L1384.2,794.7 L1385.7,794.6 L1387.3,794.6 L1388.8,794.6 L1390.3,794.6 L1391.8,794.7 L1393.3,794.8 L1394.8,794.9 L1396.3,795.1 L1397.8,795.3 L1399.3,795.5 L1400.8,795.7 L1402.3,796.0 L1403.8,796.3 L1405.3,796.6 L1406.8,797.0 L1408.3,797.3 L1409.7,797.7 L1411.2,798.1 L1412.7,798.5 L1414.2,799.0 L1415.7,799.4 L1417.1,799.9 L1418.6,800.4 L1420.1,800.9 L1421.6,801.4 L1423.0,801.9 L1424.5,802.4 L1425.9,802.9 L1427.4,803.5 L1428.8,804.0 L1430.3,804.5 L1431.7,805.1 L1433.2,805.6 L1434.6,806.2 L1436.0,806.7 L1437.5,807.3 L1438.9,807.8 L1440.3,808.4 L1441.7,808.9 L1443.1,809.4 L1444.5,810.0 L1445.9,810.5 L1447.4,811.0 L1448.8,811.5 L1450.2,812.0 L1451.6,812.5 L1453.0,813.1 L1454.4,813.6 L1455.8,814.1 L1457.2,814.6 L1458.6,815.1 L1460.1,815.6 L1461.5,816.1 L1462.9,816.6 L1464.4,817.1 L1465.8,817.5 L1467.3,818.0 L1468.7,818.5 L1470.2,819.0 L1471.7,819.5 L1473.2,820.0 L1474.7,820.5 L1476.2,820.9 L1477.7,821.4 L1479.2,821.8 L1480.7,822.2 L1482.2,822.6 L1483.8,823.0 L1485.3,823.3 L1486.8,823.6 L1488.3,823.9 L1489.8,824.1 L1491.3,824.3 L1492.8,824.4 L1494.3,824.5 L1495.8,824.6 L1497.3,824.6 L1498.8,824.5 L1500.3,824.4 L1501.7,824.2 L1503.1,823.9 L1504.6,823.6 L1506.0,823.2 L1507.4,822.8 L1508.7,822.3 L1510.1,821.8 L1511.4,821.2 L1512.8,820.5 L1514.1,819.8 L1515.3,819.1 L1516.6,818.3 L1517.8,817.4 L1519.0,816.5 L1520.2,815.6 L1521.3,814.6 L1522.4,813.6 L1523.5,812.6 L1524.5,811.5 L1525.6,810.4 L1526.5,809.2 L1527.5,808.0 L1528.4,806.8 L1529.3,805.6 L1530.1,804.3 L1530.9,803.0 L1531.7,801.7 L1532.4,800.4 L1533.2,799.0 L1533.9,797.7 L1534.6,796.3 L1535.2,794.9 L1535.9,793.5 L1536.5,792.1 L1537.2,790.7 L1537.8,789.3 L1538.4,787.8 L1539.0,786.4 L1539.6,785.0 L1540.2,783.6 L1540.8,782.1 L1541.4,780.7 L1542.0,779.3 L1542.5,777.9 L1543.1,776.4 L1543.7,775.0 L1544.2,773.5 L1544.7,772.1 L1545.3,770.7 L1545.8,769.2 L1546.3,767.8 L1546.8,766.3 L1547.3,764.9 L1547.8,763.4 L1548.3,762.0 L1548.8,760.5 L1549.3,759.1 L1549.8,757.6 L1550.3,756.2 L1550.7,754.7 L1551.2,753.3 L1551.7,751.8 L1552.1,750.3 L1552.6,748.9 L1553.0,747.4 L1553.4,746.0 L1553.9,744.5 L1554.3,743.0 L1554.7,741.6 L1555.2,740.1 L1555.6,738.6 L1556.0,737.2 L1556.4,735.7 L1556.8,734.2 L1557.2,732.7 L1557.6,731.3 L1558.0,729.8 L1558.4,728.3 L1558.8,726.9 L1559.2,725.4 L1559.6,723.9 L1560.0,722.4 L1560.3,721.0 L1560.7,719.5 L1561.1,718.0 L1561.5,716.5 L1561.8,715.1 L1562.2,713.6 L1562.6,712.1 L1562.9,710.6 L1563.3,709.2 L1563.7,707.7 L1564.0,706.2 L1564.4,704.7 L1564.8,703.3 L1565.1,701.8 L1565.5,700.3 L1565.8,698.8 L1566.2,697.4 L1566.5,695.9 L1566.9,694.4 L1567.2,693.0 L1567.6,691.5 L1567.9,690.0 L1568.3,688.5 L1568.6,687.1 L1569.0,685.6 L1569.3,684.1 L1569.7,682.7 L1570.0,681.2 L1570.4,679.7 L1570.8,678.3 L1571.1,676.8 L1571.5,675.3 L1571.8,673.9 L1572.2,672.4 L1572.5,670.9 L1572.9,669.5 L1573.3,668.0 L1573.6,666.5 L1574.0,665.1 L1574.4,663.6 L1574.7,662.2 L1575.1,660.7 L1575.5,659.2 L1575.9,657.8 L1576.3,656.3 L1576.6,654.9 L1577.0,653.4 L1577.4,651.9 L1577.8,650.5 L1578.2,649.0 L1578.6,647.6 L1579.0,646.1 L1579.4,644.6 L1579.8,643.2 L1580.3,641.7 L1580.7,640.3 L1581.1,638.8 L1581.5,637.4 L1582.0,635.9 L1582.4,634.4 L1582.9,633.0 L1583.3,631.5 L1583.8,630.1 L1584.2,628.6 L1584.7,627.2 L1585.2,625.7 L1585.6,624.3 L1586.1,622.8 L1586.6,621.4 L1587.1,619.9 L1587.6,618.5 L1588.1,617.0 L1588.6,615.5 L1589.1,614.1 L1589.6,612.6 L1590.2,611.2 L1590.7,609.7 L1591.3,608.3 L1591.8,606.8 L1592.4,605.4 L1592.9,603.9 L1593.5,602.5 L1594.1,601.0 L1594.7,599.6 L1595.3,598.1 L1595.9,596.7 L1596.5,595.2 L1597.1,593.8 L1597.8,592.3 L1598.4,590.9 L1599.1,589.4 L1599.7,588.0 L1600.4,586.6 L1601.1,585.1 L1601.8,583.7 L1602.5,582.4 L1603.3,581.0 L1604.0,579.7 L1604.8,578.3 L1605.6,577.0 L1606.5,575.8 L1607.3,574.5 L1608.2,573.3 L1609.1,572.2 L1610.0,571.0 L1611.0,569.9 L1612.0,568.9 L1613.0,567.9 L1614.1,566.9 L1615.2,566.0 L1616.3,565.2 L1617.5,564.4 L1618.7,563.7 L1619.9,563.0 L1621.2,562.3 L1622.5,561.8 L1623.9,561.2 L1625.2,560.8 L1626.6,560.3 L1628.0,560.0 L1629.5,559.6 L1630.9,559.4 L1632.4,559.1 L1633.9,558.9 L1635.4,558.8 L1637.0,558.7 L1638.5,558.6 L1640.0,558.6 L1641.6,558.6 L1643.2,558.6 L1644.7,558.7 L1646.3,558.8 L1647.9,559.0 L1649.4,559.2 L1651.0,559.4 L1652.5,559.7 L1654.1,559.9 L1655.6,560.2 L1657.2,560.6 L1658.7,560.9 L1660.2,561.3 L1661.7,561.7 L1663.2,562.1 L1664.7,562.6 L1666.1,563.0 L1667.6,563.5 L1669.1,563.9 L1670.5,564.4 L1672.0,564.9 L1673.4,565.4 L1674.8,565.9 L1676.3,566.4 L1677.7,566.9 L1679.1,567.4 L1680.5,568.0 L1681.9,568.5 L1683.3,569.0 L1684.7,569.6 L1686.1,570.2 L1687.5,570.8 L1688.9,571.4 L1690.3,572.0 L1691.7,572.6 L1693.1,573.2 L1694.5,573.9 L1695.9,574.5 L1697.3,575.2 L1698.6,575.9 L1700.0,576.5 L1701.4,577.2 L1702.8,577.9 L1704.2,578.6 L1705.6,579.2 L1707.0,579.8 L1708.5,580.5 L1709.9,581.1 L1711.3,581.7 L1712.7,582.3 L1714.2,582.8 L1715.6,583.3 L1717.1,583.8 L1718.5,584.3 L1720.0,584.7 L1721.5,585.1 L1722.9,585.5 L1724.4,585.8 L1725.9,586.1 L1727.4,586.4 L1728.9,586.7 L1730.4,586.9 L1731.9,587.1 L1733.4,587.2 L1734.9,587.4 L1736.4,587.5 L1737.9,587.5 L1739.4,587.6 L1740.9,587.6 L1742.4,587.5 L1743.9,587.5 L1745.3,587.4 L1746.8,587.2 L1748.3,587.1 L1749.7,586.9 L1751.2,586.7 L1752.7,586.4 L1754.1,586.1 L1755.5,585.8 L1757.0,585.4 L1758.4,585.0 L1759.8,584.6 L1761.2,584.2 L1762.5,583.7 L1763.9,583.2 L1765.3,582.6 L1766.6,582.0 L1767.9,581.4 L1769.3,580.7 L1770.6,580.1 L1771.8,579.4 L1773.1,578.6 L1774.4,577.8 L1775.6,577.1 L1776.9,576.2 L1778.1,575.4 L1779.3,574.5 L1780.5,573.6 L1781.7,572.7 L1782.9,571.7 L1784.1,570.8 L1785.2,569.8 L1786.4,568.8 L1787.5,567.7 L1788.6,566.7 L1789.7,565.6 L1790.8,564.5 L1791.9,563.4 L1793.0,562.3 L1794.0,561.1 L1795.1,560.0 L1796.1,558.8 L1797.1,557.6 L1798.1,556.4 L1799.1,555.2 L1800.1,554.0 L1801.1,552.7 L1802.1,551.5 L1803.0,550.2 L1804.0,548.9 L1804.9,547.6 L1805.8,546.3 L1806.8,545.0 L1807.7,543.7 L1808.6,542.4 L1809.4,541.1 L1810.3,539.8 L1811.2,538.5 L1812.0,537.1 L1812.9,535.8 L1813.7,534.4 L1814.5,533.1 L1815.3,531.8 L1816.1,530.4 L1816.9,529.1 L1817.7,527.7 L1818.4,526.4 L1819.2,525.0 L1820.0,523.7 L1820.7,522.3 L1821.4,521.0 L1822.2,519.6 L1822.9,518.3 L1823.6,516.9 L1824.3,515.6 L1825.0,514.2 L1825.7,512.8 L1826.3,511.5 L1827.0,510.1 L1827.7,508.7 L1828.3,507.4 L1829.0,506.0 L1829.6,504.6 L1830.3,503.3 L1830.9,501.9 L1831.5,500.5 L1832.2,499.1 L1832.8,497.8 L1833.4,496.4 L1834.0,495.0 L1834.6,493.6 L1835.2,492.3 L1835.8,490.9 L1836.4,489.5 L1837.0,488.1 L1837.6,486.7 L1838.2,485.3 L1838.8,484.0 L1839.4,482.6 L1839.9,481.2 L1840.5,479.8 L1841.1,478.4 L1841.7,477.0 L1842.2,475.6 L1842.8,474.2 L1843.4,472.8 L1843.9,471.4 L1844.5,470.0 L1845.1,468.7 L1845.6,467.3 L1846.2,465.9 L1846.8,464.5 L1847.3,463.1 L1847.9,461.7 L1848.5,460.3 L1849.0,458.9 L1849.6,457.5 L1850.2,456.1 L1850.7,454.7 L1851.3,453.3 L1851.9,451.9 L1852.4,450.5 L1853.0,449.0 L1853.5,447.6 L1854.1,446.2 L1854.7,444.8 L1855.2,443.4 L1855.8,442.0 L1856.3,440.6 L1856.9,439.2 L1857.5,437.8 L1858.0,436.4 L1858.6,435.0 L1859.1,433.6 L1859.7,432.1 L1860.3,430.7 L1860.8,429.3 L1861.4,427.9 L1861.9,426.5 L1862.5,425.1 L1863.0,423.7 L1863.6,422.3 L1864.2,420.8 L1864.7,419.4 L1865.3,418.0 L1865.8,416.6 L1866.4,415.2 L1866.9,413.8 L1867.5,412.3 L1868.0,410.9 L1868.6,409.5 L1869.2,408.1 L1869.7,406.7 L1870.3,405.2 L1870.8,403.8 L1871.4,402.4 L1871.9,401.0 L1872.5,399.6 L1873.0,398.1 L1873.6,396.7 L1874.1,395.3 L1874.7,393.9 L1875.2,392.5 L1875.8,391.0 L1876.3,389.6 L1876.9,388.2 L1877.5,386.8 L1878.0,385.3 L1878.6,383.9 L1879.1,382.5 L1879.7,381.1 L1880.2,379.6 L1880.8,378.2 L1881.3,376.8 L1881.9,375.4 L1882.4,373.9 L1883.0,372.5 L1883.5,371.1 L1884.1,369.7 L1884.6,368.2 L1885.2,366.8 L1885.7,365.4 L1886.3,364.0 L1886.8,362.5 L1887.4,361.1 L1887.9,359.7 L1888.5,358.3 L1889.0,356.8 L1889.6,355.4 L1890.1,354.0 L1890.7,352.6 L1891.3,351.1 L1891.8,349.7 L1892.4,348.3 L1892.9,346.9 L1893.5,345.4 L1894.0,344.0 L1894.6,342.6 L1895.1,341.2 L1895.7,339.7 L1896.2,338.3 L1896.8,336.9 L1897.3,335.5 L1897.9,334.0 L1898.4,332.6 L1899.0,331.2 L1899.5,329.8 L1900.1,328.3 L1900.6,326.9 L1901.2,325.5 L1901.8,324.1 L1902.3,322.6 L1902.9,321.2 L1903.4,319.8 L1904.0,318.4 L1904.5,317.0 L1905.1,315.5 L1905.6,314.1 L1906.2,312.7 L1906.7,311.3 L1907.3,309.8 L1907.9,308.4 L1908.4,307.0 L1909.0,305.6 L1909.5,304.2 L1910.1,302.7 L1910.6,301.3 L1911.2,299.9 L1911.8,298.5 L1912.3,297.1 L1912.9,295.7 L1913.4,294.2 L1914.0,292.8 L1914.5,291.4 L1915.1,290.0 L1915.7,288.6 L1916.2,287.2 L1916.8,285.7 L1917.3,284.3 L1917.9,282.9 L1918.5,281.5 L1919.0,280.1 L1919.6,278.7 L1920.1,277.3 L1920.7,275.9 L1921.3,274.4 L1921.8,273.0 L1922.4,271.6 L1923.0,270.2 L1923.5,268.8 L1924.1,267.4 L1924.6,266.0 L1925.2,264.6 L1925.8,263.2 L1926.3,261.8 L1926.9,260.4 L1927.5,259.0 L1928.0,257.6 L1928.6,256.2 L1929.2,254.7 L1929.7,253.3 L1930.3,251.9 L1930.9,250.5 L1931.4,249.1 L1932.0,247.7 L1932.6,246.3 L1933.2,244.9 L1933.7,243.6 L1934.3,242.2 L1934.9,240.8 L1935.4,239.4 L1936.0,238.0 L1936.6,236.6 L1937.0,235.0" fill="none" stroke="#000" stroke-width="10.3" stroke-linejoin="round" stroke-linecap="butt" clip-path="url(#cb)"/>
<path d="M1198.0,1003.0 L1199.1,1002.7 L1200.1,1001.8 L1201.0,1001.0 L1202.0,1000.1 L1203.0,999.2 L1204.0,998.4 L1205.0,997.5 L1205.9,996.6 L1206.9,995.7 L1207.9,994.9 L1208.8,994.0 L1209.8,993.1 L1210.7,992.2 L1211.6,991.3 L1212.6,990.4 L1213.5,989.5 L1214.4,988.7 L1215.4,987.8 L1216.3,986.9 L1217.2,986.0 L1218.1,985.1 L1219.0,984.2 L1219.9,983.3 L1220.8,982.4 L1221.7,981.5 L1222.6,980.6 L1223.5,979.6 L1224.4,978.7 L1225.3,977.8 L1226.1,976.9 L1227.0,976.0 L1227.9,975.1 L1228.7,974.1 L1229.6,973.2 L1230.5,972.3 L1231.3,971.4 L1232.2,970.4 L1233.0,969.5 L1233.9,968.6 L1234.7,967.6 L1235.5,966.7 L1236.4,965.8 L1237.2,964.8 L1238.0,963.9 L1238.8,962.9 L1239.6,962.0 L1240.5,961.0 L1241.3,960.1 L1242.1,959.1 L1242.9,958.2 L1243.7,957.2 L1244.5,956.3 L1245.3,955.3 L1246.0,954.3 L1246.8,953.4 L1247.6,952.4 L1248.4,951.4 L1249.2,950.5 L1249.9,949.5 L1250.7,948.5 L1251.5,947.5 L1252.2,946.5 L1253.0,945.6 L1253.8,944.6 L1254.5,943.6 L1255.3,942.6 L1256.0,941.6 L1256.8,940.6 L1257.5,939.6 L1258.2,938.6 L1259.0,937.6 L1259.7,936.6 L1260.4,935.6 L1261.2,934.6 L1261.9,933.6 L1262.6,932.5 L1263.3,931.5 L1264.1,930.5 L1264.8,929.5 L1265.5,928.4 L1266.2,927.4 L1266.9,926.4 L1267.6,925.4 L1268.3,924.3 L1269.0,923.3 L1269.7,922.2 L1270.4,921.2 L1271.1,920.2 L1271.8,919.1 L1272.5,918.0 L1273.1,917.0 L1273.8,915.9 L1274.5,914.9 L1275.2,913.8 L1275.9,912.8 L1276.5,911.7 L1277.2,910.6 L1277.9,909.5 L1278.5,908.5 L1279.2,907.4 L1279.9,906.3 L1280.5,905.2 L1281.2,904.1 L1281.8,903.0 L1282.5,902.0 L1283.2,900.9 L1283.8,899.8 L1284.5,898.7 L1285.1,897.6 L1285.7,896.5 L1286.4,895.3 L1287.0,894.2 L1287.7,893.1 L1288.3,892.0 L1288.9,890.9 L1289.6,889.8 L1290.2,888.6 L1290.8,887.5 L1291.5,886.4 L1292.1,885.2 L1292.7,884.1 L1293.4,883.0 L1294.0,881.8 L1294.6,880.7 L1295.2,879.5 L1295.8,878.4 L1296.5,877.2 L1297.1,876.1 L1297.7,874.9 L1298.3,873.8 L1299.0,872.6 L1299.6,871.5 L1300.2,870.3 L1300.8,869.2 L1301.5,868.1 L1302.1,866.9 L1302.7,865.8 L1303.4,864.6 L1304.0,863.5 L1304.6,862.3 L1305.3,861.2 L1305.9,860.1 L1306.5,858.9 L1307.2,857.8 L1307.8,856.7 L1308.5,855.5 L1309.1,854.4 L1309.8,853.3 L1310.4,852.2 L1311.1,851.1 L1311.8,850.0 L1312.4,848.9 L1313.1,847.8 L1313.8,846.7 L1314.5,845.6 L1315.1,844.5 L1315.8,843.4 L1316.5,842.3 L1317.2,841.3 L1317.9,840.2 L1318.6,839.1 L1319.3,838.1 L1320.0,837.0 L1320.8,836.0 L1321.5,835.0 L1322.2,833.9 L1323.0,832.9 L1323.7,831.9 L1324.5,830.9 L1325.2,829.9 L1326.0,828.9 L1326.8,828.0 L1327.5,827.0 L1328.3,826.0 L1329.1,825.1 L1329.9,824.1 L1330.7,823.2 L1331.5,822.3 L1332.3,821.4 L1333.2,820.4 L1334.0,819.6 L1334.9,818.7 L1335.7,817.8 L1336.6,816.9 L1337.4,816.1 L1338.3,815.2 L1339.2,814.4 L1340.1,813.6 L1341.0,812.8 L1341.9,812.0 L1342.9,811.2 L1343.8,810.4 L1344.7,809.7 L1345.7,808.9 L1346.6,808.2 L1347.6,807.5 L1348.6,806.8 L1349.6,806.1 L1350.6,805.4 L1351.6,804.7 L1352.7,804.1 L1353.7,803.4 L1354.7,802.8 L1355.8,802.2 L1356.9,801.6 L1358.0,801.0 L1359.1,800.5 L1360.2,799.9 L1361.3,799.4 L1362.4,798.9 L1363.6,798.4 L1364.7,797.9 L1365.9,797.4 L1367.1,797.0 L1368.3,796.6 L1369.5,796.1 L1370.7,795.7 L1372.0,795.4 L1373.2,795.0 L1374.4,794.7 L1375.7,794.4 L1376.9,794.1 L1378.2,793.8 L1379.5,793.5 L1380.8,793.3 L1382.1,793.1 L1383.3,792.9 L1384.6,792.7 L1385.9,792.6 L1387.2,792.4 L1388.5,792.3 L1389.8,792.3 L1391.1,792.2 L1392.4,792.2 L1393.7,792.2 L1395.0,792.2 L1396.3,792.2 L1397.6,792.3 L1398.9,792.4 L1400.2,792.5 L1401.5,792.7 L1402.7,792.9 L1404.0,793.1 L1405.3,793.3 L1406.5,793.6 L1407.8,793.9 L1409.0,794.2 L1410.2,794.6 L1411.5,794.9 L1412.7,795.4 L1413.9,795.8 L1415.1,796.3 L1416.3,796.8 L1417.4,797.3 L1418.6,797.8 L1419.8,798.4 L1420.9,799.0 L1422.1,799.6 L1423.2,800.2 L1424.3,800.8 L1425.5,801.4 L1426.6,802.0 L1427.7,802.7 L1428.9,803.3 L1430.0,803.9 L1431.1,804.6 L1432.3,805.2 L1433.4,805.8 L1434.5,806.4 L1435.6,807.0 L1436.8,807.6 L1437.9,808.2 L1439.1,808.8 L1440.2,809.3 L1441.4,809.8 L1442.5,810.3 L1443.7,810.8 L1444.8,811.3 L1446.0,811.8 L1447.2,812.2 L1448.3,812.7 L1449.5,813.1 L1450.7,813.6 L1451.8,814.0 L1453.0,814.4 L1454.2,814.8 L1455.4,815.2 L1456.6,815.6 L1457.8,816.0 L1459.0,816.4 L1460.2,816.8 L1461.4,817.2 L1462.5,817.5 L1463.7,817.9 L1464.9,818.3 L1466.1,818.7 L1467.3,819.1 L1468.5,819.5 L1469.7,820.0 L1470.9,820.4 L1472.1,820.8 L1473.4,821.2 L1474.6,821.7 L1475.8,822.1 L1477.0,822.5 L1478.2,823.0 L1479.4,823.4 L1480.6,823.8 L1481.9,824.2 L1483.1,824.6 L1484.3,824.9 L1485.6,825.3 L1486.9,825.6 L1488.1,825.9 L1489.4,826.2 L1490.7,826.4 L1491.9,826.6 L1493.2,826.8 L1494.5,827.0 L1495.8,827.1 L1497.1,827.2 L1498.3,827.2 L1499.6,827.3 L1500.9,827.2 L1502.1,827.2 L1503.4,827.1 L1504.6,826.9 L1505.8,826.7 L1507.0,826.5 L1508.2,826.2 L1509.3,825.9 L1510.5,825.5 L1511.6,825.0 L1512.7,824.5 L1513.8,824.0 L1514.8,823.4 L1515.8,822.7 L1516.8,822.0 L1517.8,821.2 L1518.7,820.4 L1519.7,819.5 L1520.6,818.7 L1521.4,817.7 L1522.3,816.8 L1523.1,815.8 L1524.0,814.8 L1524.8,813.8 L1525.6,812.7 L1526.3,811.7 L1527.1,810.6 L1527.8,809.6 L1528.6,808.5 L1529.3,807.4 L1530.0,806.3 L1530.7,805.2 L1531.3,804.1 L1532.0,803.0 L1532.7,801.9 L1533.3,800.8 L1533.9,799.7 L1534.5,798.6 L1535.1,797.5 L1535.7,796.3 L1536.3,795.2 L1536.9,794.1 L1537.4,792.9 L1538.0,791.8 L1538.5,790.6 L1539.0,789.5 L1539.5,788.3 L1540.0,787.1 L1540.5,786.0 L1541.0,784.8 L1541.5,783.6 L1542.0,782.5 L1542.4,781.3 L1542.9,780.1 L1543.3,778.9 L1543.8,777.7 L1544.2,776.5 L1544.6,775.3 L1545.0,774.1 L1545.5,772.9 L1545.9,771.7 L1546.3,770.5 L1546.6,769.3 L1547.0,768.1 L1547.4,766.9 L1547.8,765.7 L1548.2,764.5 L1548.5,763.2 L1548.9,762.0 L1549.2,760.8 L1549.6,759.6 L1549.9,758.4 L1550.3,757.1 L1550.6,755.9 L1551.0,754.7 L1551.3,753.5 L1551.6,752.2 L1552.0,751.0 L1552.3,749.8 L1552.6,748.5 L1552.9,747.3 L1553.3,746.1 L1553.6,744.9 L1553.9,743.6 L1554.2,742.4 L1554.5,741.2 L1554.9,739.9 L1555.2,738.7 L1555.5,737.5 L1555.8,736.2 L1556.1,735.0 L1556.5,733.8 L1556.8,732.6 L1557.1,731.3 L1557.4,730.1 L1557.8,728.9 L1558.1,727.7 L1558.4,726.4 L1558.7,725.2 L1559.0,724.0 L1559.4,722.8 L1559.7,721.5 L1560.0,720.3 L1560.3,719.1 L1560.7,717.9 L1561.0,716.7 L1561.3,715.4 L1561.6,714.2 L1561.9,713.0 L1562.3,711.8 L1562.6,710.5 L1562.9,709.3 L1563.2,708.1 L1563.6,706.9 L1563.9,705.7 L1564.2,704.4 L1564.5,703.2 L1564.9,702.0 L1565.2,700.8 L1565.5,699.6 L1565.8,698.3 L1566.1,697.1 L1566.5,695.9 L1566.8,694.7 L1567.1,693.4 L1567.4,692.2 L1567.8,691.0 L1568.1,689.8 L1568.4,688.6 L1568.7,687.3 L1569.0,686.1 L1569.4,684.9 L1569.7,683.7 L1570.0,682.5 L1570.3,681.2 L1570.7,680.0 L1571.0,678.8 L1571.3,677.6 L1571.6,676.3 L1571.9,675.1 L1572.3,673.9 L1572.6,672.7 L1572.9,671.4 L1573.2,670.2 L1573.5,669.0 L1573.9,667.8 L1574.2,666.6 L1574.5,665.3 L1574.8,664.1 L1575.1,662.9 L1575.4,661.6 L1575.8,660.4 L1576.1,659.2 L1576.4,658.0 L1576.7,656.7 L1577.0,655.5 L1577.3,654.3 L1577.7,653.0 L1578.0,651.8 L1578.3,650.6 L1578.6,649.3 L1578.9,648.1 L1579.2,646.9 L1579.5,645.6 L1579.9,644.4 L1580.2,643.2 L1580.5,641.9 L1580.8,640.7 L1581.1,639.5 L1581.4,638.2 L1581.7,637.0 L1582.0,635.8 L1582.4,634.5 L1582.7,633.3 L1583.0,632.1 L1583.3,630.8 L1583.6,629.6 L1584.0,628.4 L1584.3,627.1 L1584.6,625.9 L1585.0,624.7 L1585.3,623.4 L1585.7,622.2 L1586.0,621.0 L1586.4,619.8 L1586.7,618.5 L1587.1,617.3 L1587.4,616.1 L1587.8,614.9 L1588.2,613.7 L1588.6,612.5 L1589.0,611.2 L1589.4,610.0 L1589.8,608.8 L1590.2,607.6 L1590.6,606.4 L1591.0,605.2 L1591.5,604.0 L1591.9,602.9 L1592.3,601.7 L1592.8,600.5 L1593.3,599.3 L1593.7,598.1 L1594.2,597.0 L1594.7,595.8 L1595.2,594.6 L1595.7,593.5 L1596.3,592.3 L1596.8,591.2 L1597.3,590.0 L1597.9,588.9 L1598.5,587.8 L1599.0,586.6 L1599.6,585.5 L1600.2,584.4 L1600.8,583.3 L1601.5,582.2 L1602.1,581.1 L1602.8,580.0 L1603.4,578.9 L1604.1,577.8 L1604.8,576.7 L1605.5,575.6 L1606.2,574.6 L1607.0,573.5 L1607.7,572.4 L1608.5,571.4 L1609.2,570.4 L1610.0,569.4 L1610.8,568.4 L1611.7,567.4 L1612.5,566.4 L1613.4,565.5 L1614.2,564.6 L1615.1,563.7 L1616.0,562.8 L1616.9,562.0 L1617.9,561.2 L1618.8,560.4 L1619.8,559.7 L1620.8,559.0 L1621.8,558.3 L1622.8,557.7 L1623.9,557.1 L1624.9,556.5 L1626.0,556.0 L1627.1,555.5 L1628.2,555.1 L1629.3,554.7 L1630.5,554.4 L1631.6,554.1 L1632.8,553.9 L1634.0,553.8 L1635.3,553.6 L1636.5,553.6 L1637.8,553.6 L1639.0,553.6 L1640.3,553.7 L1641.6,553.9 L1642.9,554.0 L1644.3,554.3 L1645.6,554.5 L1646.9,554.8 L1648.2,555.1 L1649.5,555.4 L1650.8,555.8 L1652.1,556.2 L1653.4,556.5 L1654.7,556.9 L1656.0,557.3 L1657.3,557.8 L1658.5,558.2 L1659.8,558.6 L1661.0,559.1 L1662.2,559.5 L1663.5,560.0 L1664.7,560.5 L1665.9,561.0 L1667.1,561.4 L1668.3,561.9 L1669.4,562.4 L1670.6,563.0 L1671.8,563.5 L1672.9,564.0 L1674.1,564.5 L1675.2,565.0 L1676.4,565.6 L1677.5,566.1 L1678.7,566.6 L1679.8,567.2 L1680.9,567.7 L1682.0,568.3 L1683.2,568.8 L1684.3,569.4 L1685.4,569.9 L1686.5,570.5 L1687.6,571.1 L1688.7,571.6 L1689.9,572.2 L1691.0,572.7 L1692.1,573.3 L1693.2,573.8 L1694.3,574.4 L1695.4,574.9 L1696.5,575.5 L1697.7,576.0 L1698.8,576.6 L1699.9,577.1 L1701.0,577.6 L1702.2,578.2 L1703.3,578.7 L1704.4,579.2 L1705.6,579.7 L1706.7,580.2 L1707.9,580.7 L1709.0,581.2 L1710.2,581.7 L1711.4,582.2 L1712.6,582.7 L1713.7,583.2 L1714.9,583.6 L1716.1,584.1 L1717.3,584.5 L1718.6,584.9 L1719.8,585.4 L1721.0,585.8 L1722.2,586.2 L1723.5,586.5 L1724.7,586.9 L1726.0,587.3 L1727.2,587.6 L1728.5,587.9 L1729.7,588.2 L1731.0,588.5 L1732.3,588.8 L1733.5,589.1 L1734.8,589.3 L1736.1,589.5 L1737.3,589.7 L1738.6,589.9 L1739.9,590.0 L1741.1,590.2 L1742.4,590.3 L1743.7,590.4 L1744.9,590.4 L1746.2,590.4 L1747.5,590.5 L1748.7,590.4 L1750.0,590.4 L1751.2,590.3 L1752.5,590.2 L1753.7,590.1 L1754.9,589.9 L1756.1,589.7 L1757.4,589.5 L1758.6,589.2 L1759.8,588.9 L1761.0,588.6 L1762.2,588.2 L1763.3,587.8 L1764.5,587.4 L1765.7,586.9 L1766.8,586.4 L1767.9,585.9 L1769.1,585.3 L1770.2,584.7 L1771.3,584.1 L1772.4,583.4 L1773.5,582.8 L1774.6,582.1 L1775.6,581.3 L1776.7,580.6 L1777.7,579.8 L1778.8,579.0 L1779.8,578.2 L1780.8,577.4 L1781.8,576.6 L1782.8,575.7 L1783.8,574.9 L1784.8,574.0 L1785.8,573.1 L1786.7,572.2 L1787.7,571.3 L1788.6,570.4 L1789.5,569.5 L1790.4,568.6 L1791.3,567.7 L1792.2,566.8 L1793.1,565.8 L1794.0,564.9 L1794.8,563.9 L1795.7,563.0 L1796.5,562.0 L1797.4,561.1 L1798.2,560.1 L1799.0,559.1 L1799.8,558.1 L1800.6,557.2 L1801.4,556.2 L1802.2,555.2 L1803.0,554.2 L1803.8,553.2 L1804.6,552.2 L1805.3,551.2 L1806.1,550.2 L1806.8,549.1 L1807.6,548.1 L1808.3,547.1 L1809.0,546.1 L1809.8,545.0 L1810.5,544.0 L1811.2,543.0 L1811.9,541.9 L1812.6,540.9 L1813.4,539.8 L1814.1,538.8 L1814.8,537.7 L1815.5,536.7 L1816.1,535.6 L1816.8,534.6 L1817.5,533.5 L1818.2,532.5 L1818.9,531.4 L1819.6,530.3 L1820.3,529.3 L1820.9,528.2 L1821.6,527.1 L1822.3,526.1 L1823.0,525.0 L1823.6,523.9 L1824.3,522.9 L1825.0,521.8 L1825.6,520.7 L1826.3,519.6 L1827.0,518.6 L1827.7,517.5 L1828.3,516.4 L1829.0,515.4 L1829.7,514.3 L1830.4,513.2 L1831.0,512.2 L1831.7,511.1 L1832.4,510.0 L1833.1,509.0 L1833.8,507.9 L1834.5,506.8 L1835.1,505.8 L1835.8,504.7 L1836.5,503.7 L1837.2,502.6 L1837.9,501.5 L1838.6,500.5 L1839.3,499.4 L1840.0,498.4 L1840.7,497.3 L1841.4,496.3 L1842.1,495.2 L1842.8,494.2 L1843.5,493.1 L1844.3,492.0 L1845.0,491.0 L1845.7,489.9 L1846.4,488.9 L1847.1,487.8 L1847.8,486.8 L1848.5,485.7 L1849.2,484.7 L1850.0,483.7 L1850.7,482.6 L1851.4,481.6 L1852.1,480.5 L1852.8,479.5 L1853.5,478.4 L1854.2,477.4 L1855.0,476.3 L1855.7,475.3 L1856.4,474.2 L1857.1,473.2 L1857.8,472.1 L1858.6,471.1 L1859.3,470.1 L1860.0,469.0 L1860.7,468.0 L1861.5,466.9 L1862.2,465.9 L1862.9,464.9 L1863.7,463.8 L1864.4,462.8 L1865.1,461.7 L1865.9,460.7 L1866.6,459.7 L1867.3,458.6 L1868.1,457.6 L1868.8,456.6 L1869.5,455.6 L1870.3,454.5 L1871.0,453.5 L1871.8,452.5 L1872.5,451.4 L1873.3,450.4 L1874.0,449.4 L1874.8,448.4 L1875.5,447.4 L1876.3,446.3 L1877.0,445.3 L1877.8,444.3 L1878.6,443.3 L1879.3,442.3 L1880.1,441.3 L1880.8,440.3 L1881.6,439.3 L1882.4,438.2 L1883.2,437.2 L1883.9,436.2 L1884.7,435.2 L1885.5,434.2 L1886.3,433.2 L1887.0,432.2 L1887.8,431.3 L1888.6,430.3 L1889.4,429.3 L1890.2,428.3 L1891.0,427.3 L1891.8,426.3 L1892.6,425.3 L1893.4,424.3 L1894.2,423.4 L1895.0,422.4 L1895.8,421.4 L1896.6,420.4 L1897.4,419.5 L1898.2,418.5 L1899.0,417.5 L1899.9,416.6 L1900.7,415.6 L1901.5,414.7 L1902.3,413.7 L1903.2,412.7 L1904.0,411.8 L1904.8,410.8 L1905.7,409.9 L1906.5,408.9 L1907.3,408.0 L1908.2,407.1 L1909.0,406.1 L1909.9,405.2 L1910.8,404.3 L1911.6,403.3 L1912.5,402.4 L1913.3,401.5 L1914.2,400.6 L1915.1,399.6 L1916.0,398.7 L1916.8,397.8 L1917.7,396.9 L1918.6,396.0 L1919.5,395.1 L1920.4,394.2 L1921.3,393.3 L1922.2,392.4 L1923.1,391.5 L1924.0,390.6 L1924.9,389.7 L1925.8,388.8 L1926.7,388.0 L1927.6,387.1 L1928.6,386.2 L1929.5,385.3 L1930.4,384.5 L1931.4,383.6 L1932.3,382.7 L1933.2,381.9 L1934.2,381.0 L1935.1,380.2 L1936.1,379.3 L1937.0,378.5" fill="none" stroke="#f00" stroke-width="10.3" stroke-linejoin="round" stroke-linecap="butt" clip-path="url(#cb)"/>
<path d="M1198.0,894.0 L1199.0,893.6 L1200.2,893.5 L1201.3,893.4 L1202.5,893.3 L1203.6,893.2 L1204.7,893.0 L1205.9,892.9 L1207.0,892.7 L1208.1,892.6 L1209.3,892.4 L1210.4,892.3 L1211.5,892.1 L1212.7,891.9 L1213.8,891.7 L1214.9,891.5 L1216.0,891.3 L1217.2,891.1 L1218.3,890.9 L1219.4,890.6 L1220.5,890.4 L1221.6,890.2 L1222.7,889.9 L1223.8,889.7 L1224.9,889.4 L1226.0,889.1 L1227.1,888.8 L1228.2,888.5 L1229.3,888.3 L1230.4,888.0 L1231.5,887.6 L1232.6,887.3 L1233.7,887.0 L1234.8,886.7 L1235.9,886.3 L1237.0,886.0 L1238.0,885.7 L1239.1,885.3 L1240.2,884.9 L1241.3,884.6 L1242.3,884.2 L1243.4,883.8 L1244.5,883.4 L1245.5,883.0 L1246.6,882.6 L1247.6,882.2 L1248.7,881.8 L1249.7,881.4 L1250.8,881.0 L1251.8,880.5 L1252.9,880.1 L1253.9,879.7 L1255.0,879.2 L1256.0,878.8 L1257.0,878.3 L1258.1,877.8 L1259.1,877.3 L1260.1,876.9 L1261.1,876.4 L1262.2,875.9 L1263.2,875.4 L1264.2,874.9 L1265.2,874.4 L1266.2,873.9 L1267.2,873.4 L1268.2,872.8 L1269.2,872.3 L1270.2,871.8 L1271.2,871.2 L1272.2,870.7 L1273.2,870.1 L1274.2,869.6 L1275.2,869.0 L1276.2,868.4 L1277.1,867.9 L1278.1,867.3 L1279.1,866.7 L1280.0,866.1 L1281.0,865.5 L1282.0,864.9 L1282.9,864.3 L1283.9,863.7 L1284.8,863.1 L1285.8,862.5 L1286.7,861.9 L1287.7,861.3 L1288.6,860.6 L1289.5,860.0 L1290.5,859.4 L1291.4,858.7 L1292.3,858.1 L1293.3,857.4 L1294.2,856.8 L1295.1,856.1 L1296.0,855.4 L1296.9,854.8 L1297.8,854.1 L1298.7,853.4 L1299.6,852.7 L1300.5,852.1 L1301.4,851.4 L1302.3,850.7 L1303.2,850.0 L1304.1,849.3 L1304.9,848.6 L1305.8,847.9 L1306.7,847.1 L1307.5,846.4 L1308.4,845.7 L1309.3,845.0 L1310.1,844.3 L1311.0,843.5 L1311.8,842.8 L1312.7,842.0 L1313.5,841.3 L1314.3,840.5 L1315.2,839.8 L1316.0,839.0 L1316.8,838.2 L1317.6,837.5 L1318.4,836.7 L1319.2,835.9 L1320.1,835.1 L1320.9,834.3 L1321.6,833.5 L1322.4,832.7 L1323.2,831.8 L1324.0,831.0 L1324.8,830.2 L1325.6,829.3 L1326.3,828.5 L1327.1,827.6 L1327.8,826.7 L1328.6,825.9 L1329.3,825.0 L1330.1,824.1 L1330.8,823.2 L1331.6,822.3 L1332.3,821.3 L1333.0,820.4 L1333.7,819.5 L1334.4,818.5 L1335.1,817.6 L1335.8,816.6 L1336.5,815.6 L1337.2,814.7 L1337.9,813.7 L1338.6,812.7 L1339.3,811.7 L1340.0,810.8 L1340.7,809.8 L1341.4,808.8 L1342.1,807.9 L1342.9,807.0 L1343.6,806.0 L1344.3,805.1 L1345.1,804.2 L1345.8,803.4 L1346.6,802.5 L1347.4,801.7 L1348.2,800.9 L1349.0,800.1 L1349.9,799.4 L1350.7,798.6 L1351.6,797.9 L1352.4,797.3 L1353.3,796.6 L1354.2,796.0 L1355.2,795.4 L1356.1,794.8 L1357.0,794.2 L1358.0,793.7 L1358.9,793.2 L1359.9,792.7 L1360.9,792.2 L1361.9,791.8 L1362.9,791.3 L1363.9,790.9 L1364.9,790.6 L1366.0,790.2 L1367.0,789.9 L1368.0,789.5 L1369.1,789.2 L1370.2,789.0 L1371.2,788.7 L1372.3,788.5 L1373.4,788.3 L1374.5,788.1 L1375.6,787.9 L1376.7,787.8 L1377.8,787.6 L1378.9,787.5 L1380.0,787.4 L1381.1,787.3 L1382.2,787.3 L1383.4,787.2 L1384.5,787.2 L1385.6,787.2 L1386.7,787.2 L1387.9,787.3 L1389.0,787.3 L1390.1,787.4 L1391.3,787.5 L1392.4,787.6 L1393.5,787.7 L1394.7,787.8 L1395.8,788.0 L1396.9,788.2 L1398.1,788.3 L1399.2,788.5 L1400.3,788.8 L1401.5,789.0 L1402.6,789.2 L1403.7,789.5 L1404.8,789.8 L1405.9,790.1 L1407.0,790.4 L1408.1,790.7 L1409.2,791.0 L1410.3,791.4 L1411.4,791.7 L1412.5,792.1 L1413.6,792.5 L1414.6,792.9 L1415.7,793.3 L1416.8,793.8 L1417.8,794.2 L1418.9,794.6 L1419.9,795.1 L1420.9,795.6 L1422.0,796.1 L1423.0,796.5 L1424.0,797.0 L1425.1,797.5 L1426.1,798.1 L1427.1,798.6 L1428.1,799.1 L1429.1,799.6 L1430.1,800.2 L1431.1,800.7 L1432.1,801.3 L1433.1,801.8 L1434.1,802.4 L1435.1,802.9 L1436.1,803.5 L1437.1,804.1 L1438.1,804.6 L1439.1,805.2 L1440.1,805.8 L1441.1,806.3 L1442.1,806.9 L1443.0,807.5 L1444.0,808.0 L1445.0,808.6 L1446.0,809.2 L1447.0,809.7 L1448.0,810.3 L1449.0,810.9 L1450.0,811.4 L1451.0,812.0 L1452.0,812.5 L1453.0,813.1 L1454.0,813.6 L1455.0,814.1 L1456.0,814.7 L1457.0,815.2 L1458.0,815.7 L1459.0,816.2 L1460.0,816.7 L1461.0,817.2 L1462.1,817.6 L1463.1,818.1 L1464.1,818.6 L1465.2,819.0 L1466.2,819.5 L1467.3,819.9 L1468.3,820.3 L1469.4,820.7 L1470.4,821.1 L1471.5,821.5 L1472.6,821.8 L1473.6,822.2 L1474.7,822.5 L1475.8,822.9 L1476.9,823.2 L1478.0,823.5 L1479.1,823.9 L1480.2,824.2 L1481.3,824.5 L1482.4,824.8 L1483.5,825.2 L1484.6,825.5 L1485.7,825.8 L1486.8,826.1 L1487.9,826.5 L1489.0,826.8 L1490.1,827.1 L1491.2,827.5 L1492.4,827.8 L1493.5,828.0 L1494.6,828.3 L1495.7,828.5 L1496.8,828.7 L1498.0,828.8 L1499.1,828.9 L1500.2,828.9 L1501.3,828.8 L1502.4,828.7 L1503.6,828.5 L1504.7,828.3 L1505.8,828.0 L1506.9,827.7 L1508.0,827.3 L1509.0,826.9 L1510.1,826.4 L1511.2,825.9 L1512.2,825.4 L1513.2,824.9 L1514.2,824.3 L1515.2,823.7 L1516.1,823.1 L1517.0,822.5 L1517.9,821.8 L1518.8,821.1 L1519.7,820.5 L1520.5,819.7 L1521.4,819.0 L1522.2,818.3 L1523.0,817.5 L1523.7,816.7 L1524.5,816.0 L1525.2,815.1 L1525.9,814.3 L1526.6,813.5 L1527.3,812.6 L1528.0,811.8 L1528.6,810.9 L1529.3,810.0 L1529.9,809.1 L1530.5,808.2 L1531.1,807.2 L1531.6,806.3 L1532.2,805.3 L1532.8,804.4 L1533.3,803.4 L1533.8,802.4 L1534.3,801.4 L1534.8,800.4 L1535.3,799.4 L1535.8,798.3 L1536.3,797.3 L1536.7,796.3 L1537.2,795.2 L1537.6,794.2 L1538.1,793.1 L1538.5,792.0 L1538.9,790.9 L1539.3,789.9 L1539.7,788.8 L1540.1,787.7 L1540.5,786.6 L1540.9,785.5 L1541.2,784.4 L1541.6,783.3 L1542.0,782.1 L1542.3,781.0 L1542.7,779.9 L1543.0,778.8 L1543.4,777.7 L1543.7,776.5 L1544.1,775.4 L1544.4,774.3 L1544.8,773.2 L1545.1,772.0 L1545.4,770.9 L1545.8,769.8 L1546.1,768.7 L1546.4,767.6 L1546.8,766.4 L1547.1,765.3 L1547.4,764.2 L1547.8,763.1 L1548.1,762.0 L1548.4,760.9 L1548.8,759.8 L1549.1,758.7 L1549.5,757.6 L1549.8,756.5 L1550.1,755.4 L1550.5,754.3 L1550.8,753.2 L1551.1,752.2 L1551.5,751.1 L1551.8,750.0 L1552.2,748.9 L1552.5,747.8 L1552.8,746.7 L1553.2,745.7 L1553.5,744.6 L1553.8,743.5 L1554.2,742.4 L1554.5,741.4 L1554.9,740.3 L1555.2,739.2 L1555.5,738.2 L1555.8,737.1 L1556.2,736.0 L1556.5,734.9 L1556.8,733.9 L1557.2,732.8 L1557.5,731.7 L1557.8,730.7 L1558.1,729.6 L1558.4,728.5 L1558.8,727.4 L1559.1,726.4 L1559.4,725.3 L1559.7,724.2 L1560.0,723.2 L1560.3,722.1 L1560.6,721.0 L1560.9,719.9 L1561.2,718.9 L1561.5,717.8 L1561.8,716.7 L1562.1,715.6 L1562.4,714.5 L1562.7,713.4 L1563.0,712.4 L1563.3,711.3 L1563.6,710.2 L1563.8,709.1 L1564.1,708.0 L1564.4,706.9 L1564.7,705.8 L1564.9,704.7 L1565.2,703.6 L1565.5,702.5 L1565.7,701.4 L1566.0,700.3 L1566.2,699.2 L1566.5,698.1 L1566.8,697.0 L1567.0,695.9 L1567.3,694.8 L1567.5,693.7 L1567.8,692.6 L1568.0,691.5 L1568.3,690.4 L1568.5,689.3 L1568.8,688.2 L1569.0,687.1 L1569.3,686.0 L1569.5,684.9 L1569.8,683.8 L1570.0,682.7 L1570.3,681.6 L1570.5,680.4 L1570.8,679.3 L1571.0,678.2 L1571.3,677.1 L1571.5,676.0 L1571.8,674.9 L1572.0,673.8 L1572.2,672.7 L1572.5,671.5 L1572.7,670.4 L1573.0,669.3 L1573.2,668.2 L1573.5,667.1 L1573.7,666.0 L1574.0,664.9 L1574.2,663.7 L1574.5,662.6 L1574.7,661.5 L1575.0,660.4 L1575.2,659.3 L1575.5,658.2 L1575.8,657.1 L1576.0,656.0 L1576.3,654.8 L1576.5,653.7 L1576.8,652.6 L1577.1,651.5 L1577.3,650.4 L1577.6,649.3 L1577.9,648.2 L1578.1,647.1 L1578.4,646.0 L1578.7,644.9 L1579.0,643.8 L1579.3,642.7 L1579.5,641.5 L1579.8,640.4 L1580.1,639.3 L1580.4,638.2 L1580.7,637.1 L1581.0,636.0 L1581.3,634.9 L1581.6,633.8 L1581.9,632.7 L1582.2,631.6 L1582.5,630.5 L1582.8,629.5 L1583.1,628.4 L1583.5,627.3 L1583.8,626.2 L1584.1,625.1 L1584.4,624.0 L1584.8,622.9 L1585.1,621.8 L1585.5,620.7 L1585.8,619.7 L1586.2,618.6 L1586.5,617.5 L1586.9,616.4 L1587.2,615.3 L1587.6,614.3 L1588.0,613.2 L1588.3,612.1 L1588.7,611.1 L1589.1,610.0 L1589.5,608.9 L1589.9,607.9 L1590.3,606.8 L1590.7,605.7 L1591.1,604.7 L1591.5,603.6 L1591.9,602.6 L1592.4,601.5 L1592.8,600.4 L1593.2,599.4 L1593.7,598.4 L1594.1,597.3 L1594.6,596.3 L1595.0,595.2 L1595.5,594.2 L1595.9,593.1 L1596.4,592.1 L1596.9,591.1 L1597.4,590.1 L1597.9,589.0 L1598.4,588.0 L1598.9,587.0 L1599.4,586.0 L1599.9,584.9 L1600.4,583.9 L1600.9,582.9 L1601.5,581.9 L1602.0,580.9 L1602.6,579.9 L1603.1,578.9 L1603.7,577.9 L1604.3,576.9 L1604.8,575.9 L1605.4,574.9 L1606.0,573.9 L1606.6,572.9 L1607.2,572.0 L1607.8,571.0 L1608.5,570.0 L1609.1,569.1 L1609.7,568.1 L1610.4,567.2 L1611.1,566.3 L1611.7,565.3 L1612.4,564.4 L1613.1,563.6 L1613.8,562.7 L1614.5,561.9 L1615.3,561.0 L1616.0,560.2 L1616.8,559.5 L1617.6,558.7 L1618.4,558.0 L1619.2,557.3 L1620.0,556.6 L1620.8,556.0 L1621.7,555.4 L1622.6,554.8 L1623.4,554.3 L1624.4,553.8 L1625.3,553.3 L1626.2,552.9 L1627.2,552.5 L1628.2,552.1 L1629.2,551.8 L1630.2,551.6 L1631.3,551.4 L1632.4,551.2 L1633.5,551.1 L1634.6,551.0 L1635.7,551.0 L1636.9,551.0 L1638.1,551.1 L1639.2,551.2 L1640.4,551.4 L1641.7,551.6 L1642.9,551.8 L1644.1,552.1 L1645.3,552.4 L1646.6,552.7 L1647.8,553.0 L1649.0,553.4 L1650.2,553.8 L1651.4,554.2 L1652.6,554.7 L1653.8,555.1 L1654.9,555.6 L1656.1,556.1 L1657.2,556.5 L1658.3,557.0 L1659.4,557.6 L1660.4,558.1 L1661.5,558.6 L1662.5,559.1 L1663.5,559.7 L1664.5,560.3 L1665.5,560.8 L1666.5,561.4 L1667.5,562.0 L1668.5,562.6 L1669.4,563.1 L1670.4,563.7 L1671.3,564.3 L1672.2,564.9 L1673.2,565.6 L1674.1,566.2 L1675.0,566.8 L1675.9,567.4 L1676.8,568.0 L1677.7,568.7 L1678.6,569.3 L1679.5,569.9 L1680.4,570.5 L1681.3,571.2 L1682.2,571.8 L1683.1,572.4 L1684.0,573.0 L1684.9,573.7 L1685.8,574.3 L1686.7,574.9 L1687.6,575.5 L1688.5,576.1 L1689.5,576.7 L1690.4,577.3 L1691.3,577.9 L1692.3,578.5 L1693.2,579.1 L1694.2,579.7 L1695.2,580.3 L1696.2,580.8 L1697.1,581.4 L1698.1,582.0 L1699.1,582.5 L1700.2,583.0 L1701.2,583.6 L1702.2,584.1 L1703.2,584.6 L1704.3,585.1 L1705.3,585.6 L1706.4,586.1 L1707.4,586.6 L1708.5,587.1 L1709.5,587.5 L1710.6,588.0 L1711.7,588.4 L1712.8,588.8 L1713.9,589.3 L1714.9,589.7 L1716.0,590.1 L1717.1,590.5 L1718.2,590.8 L1719.3,591.2 L1720.4,591.6 L1721.6,591.9 L1722.7,592.2 L1723.8,592.5 L1724.9,592.8 L1726.0,593.1 L1727.1,593.4 L1728.3,593.7 L1729.4,593.9 L1730.5,594.2 L1731.6,594.4 L1732.8,594.6 L1733.9,594.8 L1735.0,594.9 L1736.2,595.1 L1737.3,595.3 L1738.4,595.4 L1739.5,595.5 L1740.7,595.6 L1741.8,595.7 L1742.9,595.7 L1744.1,595.8 L1745.2,595.8 L1746.3,595.8 L1747.4,595.8 L1748.5,595.8 L1749.6,595.8 L1750.8,595.7 L1751.9,595.7 L1753.0,595.6 L1754.1,595.5 L1755.2,595.3 L1756.3,595.2 L1757.4,595.0 L1758.4,594.8 L1759.5,594.6 L1760.6,594.4 L1761.7,594.1 L1762.7,593.9 L1763.8,593.6 L1764.9,593.3 L1765.9,592.9 L1767.0,592.6 L1768.0,592.2 L1769.0,591.8 L1770.1,591.4 L1771.1,591.0 L1772.1,590.5 L1773.1,590.0 L1774.1,589.6 L1775.1,589.0 L1776.1,588.5 L1777.1,588.0 L1778.1,587.4 L1779.0,586.9 L1780.0,586.3 L1781.0,585.7 L1781.9,585.0 L1782.9,584.4 L1783.8,583.8 L1784.7,583.1 L1785.6,582.4 L1786.6,581.7 L1787.5,581.0 L1788.4,580.3 L1789.3,579.6 L1790.2,578.8 L1791.0,578.1 L1791.9,577.3 L1792.8,576.5 L1793.6,575.7 L1794.5,574.9 L1795.3,574.1 L1796.2,573.3 L1797.0,572.4 L1797.8,571.6 L1798.6,570.7 L1799.4,569.9 L1800.2,569.0 L1801.0,568.1 L1801.8,567.2 L1802.5,566.3 L1803.3,565.4 L1804.1,564.5 L1804.8,563.6 L1805.5,562.6 L1806.3,561.7 L1807.0,560.8 L1807.7,559.8 L1808.4,558.9 L1809.1,557.9 L1809.7,556.9 L1810.4,556.0 L1811.1,555.0 L1811.7,554.0 L1812.4,553.1 L1813.0,552.1 L1813.6,551.1 L1814.2,550.1 L1814.9,549.1 L1815.5,548.1 L1816.1,547.2 L1816.7,546.2 L1817.3,545.2 L1817.9,544.2 L1818.5,543.3 L1819.1,542.3 L1819.7,541.3 L1820.4,540.4 L1821.0,539.4 L1821.6,538.5 L1822.2,537.6 L1822.9,536.6 L1823.5,535.7 L1824.2,534.8 L1824.8,533.9 L1825.5,533.0 L1826.2,532.2 L1826.9,531.3 L1827.6,530.5 L1828.3,529.6 L1829.0,528.8 L1829.8,528.0 L1830.6,527.3 L1831.4,526.5 L1832.1,525.7 L1833.0,525.0 L1833.8,524.3 L1834.6,523.6 L1835.5,522.9 L1836.3,522.2 L1837.2,521.5 L1838.1,520.9 L1839.0,520.3 L1839.9,519.6 L1840.8,519.0 L1841.8,518.4 L1842.7,517.8 L1843.7,517.2 L1844.6,516.6 L1845.6,516.1 L1846.6,515.5 L1847.6,515.0 L1848.6,514.5 L1849.6,513.9 L1850.6,513.4 L1851.6,512.9 L1852.6,512.4 L1853.7,511.9 L1854.7,511.4 L1855.7,510.9 L1856.8,510.5 L1857.8,510.0 L1858.9,509.5 L1860.0,509.1 L1861.0,508.6 L1862.1,508.2 L1863.2,507.7 L1864.2,507.3 L1865.3,506.9 L1866.4,506.4 L1867.5,506.0 L1868.5,505.6 L1869.6,505.2 L1870.7,504.7 L1871.8,504.3 L1872.8,503.9 L1873.9,503.5 L1875.0,503.1 L1876.1,502.6 L1877.1,502.2 L1878.2,501.8 L1879.3,501.4 L1880.4,501.0 L1881.4,500.6 L1882.5,500.1 L1883.5,499.7 L1884.6,499.3 L1885.6,498.9 L1886.7,498.5 L1887.7,498.1 L1888.8,497.6 L1889.8,497.2 L1890.9,496.8 L1891.9,496.4 L1893.0,496.0 L1894.0,495.6 L1895.0,495.2 L1896.1,494.8 L1897.1,494.4 L1898.2,494.0 L1899.2,493.7 L1900.3,493.3 L1901.3,492.9 L1902.3,492.6 L1903.4,492.2 L1904.5,491.9 L1905.5,491.6 L1906.6,491.2 L1907.6,490.9 L1908.7,490.6 L1909.8,490.3 L1910.8,490.0 L1911.9,489.7 L1913.0,489.5 L1914.1,489.2 L1915.1,489.0 L1916.2,488.7 L1917.3,488.5 L1918.4,488.3 L1919.5,488.1 L1920.7,487.9 L1921.8,487.8 L1922.9,487.6 L1924.0,487.5 L1925.2,487.3 L1926.3,487.2 L1927.5,487.1 L1928.6,487.0 L1929.8,487.0 L1931.0,486.9 L1932.2,486.9 L1933.4,486.9 L1934.6,486.9 L1935.8,486.9 L1937.0,487.0" fill="none" stroke="#0f0" stroke-width="10.3" stroke-linejoin="round" stroke-linecap="butt" clip-path="url(#cb)"/>
<path d="M1198.0,827.0 L1199.4,827.3 L1200.4,827.4 L1201.4,827.5 L1202.4,827.5 L1203.4,827.6 L1204.4,827.7 L1205.4,827.8 L1206.5,828.0 L1207.5,828.1 L1208.5,828.2 L1209.6,828.3 L1210.6,828.4 L1211.7,828.5 L1212.7,828.7 L1213.8,828.8 L1214.8,828.9 L1215.9,829.1 L1217.0,829.2 L1218.1,829.3 L1219.1,829.5 L1220.2,829.6 L1221.3,829.7 L1222.4,829.9 L1223.5,830.0 L1224.6,830.2 L1225.7,830.3 L1226.8,830.4 L1227.9,830.6 L1229.0,830.7 L1230.1,830.8 L1231.2,831.0 L1232.3,831.1 L1233.5,831.2 L1234.6,831.4 L1235.7,831.5 L1236.8,831.6 L1237.9,831.7 L1239.1,831.8 L1240.2,832.0 L1241.3,832.1 L1242.5,832.2 L1243.6,832.3 L1244.7,832.4 L1245.8,832.5 L1247.0,832.6 L1248.1,832.7 L1249.2,832.7 L1250.4,832.8 L1251.5,832.9 L1252.6,833.0 L1253.8,833.0 L1254.9,833.1 L1256.0,833.1 L1257.2,833.2 L1258.3,833.2 L1259.4,833.3 L1260.5,833.3 L1261.7,833.3 L1262.8,833.3 L1263.9,833.3 L1265.0,833.3 L1266.2,833.3 L1267.3,833.3 L1268.4,833.2 L1269.5,833.2 L1270.6,833.2 L1271.7,833.1 L1272.8,833.0 L1273.9,833.0 L1275.0,832.9 L1276.1,832.8 L1277.2,832.7 L1278.3,832.6 L1279.4,832.5 L1280.5,832.3 L1281.6,832.2 L1282.6,832.0 L1283.7,831.8 L1284.8,831.7 L1285.8,831.5 L1286.9,831.3 L1287.9,831.1 L1289.0,830.8 L1290.0,830.6 L1291.1,830.3 L1292.1,830.1 L1293.1,829.8 L1294.2,829.5 L1295.2,829.2 L1296.2,828.9 L1297.2,828.5 L1298.2,828.2 L1299.2,827.8 L1300.2,827.5 L1301.2,827.1 L1302.2,826.7 L1303.1,826.2 L1304.1,825.8 L1305.1,825.4 L1306.0,824.9 L1307.0,824.4 L1307.9,823.9 L1308.8,823.4 L1309.8,822.9 L1310.7,822.3 L1311.6,821.8 L1312.5,821.2 L1313.4,820.6 L1314.3,820.0 L1315.2,819.4 L1316.1,818.8 L1317.0,818.2 L1317.9,817.6 L1318.8,817.0 L1319.6,816.3 L1320.5,815.7 L1321.4,815.0 L1322.3,814.4 L1323.2,813.7 L1324.0,813.0 L1324.9,812.3 L1325.8,811.7 L1326.6,811.0 L1327.5,810.3 L1328.4,809.6 L1329.2,808.9 L1330.1,808.2 L1331.0,807.5 L1331.8,806.8 L1332.7,806.1 L1333.6,805.4 L1334.5,804.7 L1335.3,804.0 L1336.2,803.3 L1337.1,802.6 L1338.0,801.9 L1338.9,801.3 L1339.7,800.6 L1340.6,799.9 L1341.5,799.2 L1342.4,798.6 L1343.3,797.9 L1344.2,797.3 L1345.2,796.6 L1346.1,796.0 L1347.0,795.4 L1347.9,794.7 L1348.9,794.1 L1349.8,793.5 L1350.8,792.9 L1351.7,792.4 L1352.7,791.8 L1353.6,791.2 L1354.6,790.7 L1355.6,790.2 L1356.5,789.6 L1357.5,789.1 L1358.5,788.6 L1359.5,788.1 L1360.5,787.7 L1361.5,787.2 L1362.5,786.8 L1363.5,786.3 L1364.5,785.9 L1365.5,785.5 L1366.5,785.1 L1367.5,784.8 L1368.6,784.4 L1369.6,784.1 L1370.6,783.8 L1371.6,783.5 L1372.7,783.2 L1373.7,782.9 L1374.7,782.7 L1375.8,782.4 L1376.8,782.2 L1377.8,782.0 L1378.9,781.9 L1379.9,781.7 L1380.9,781.6 L1382.0,781.5 L1383.0,781.4 L1384.1,781.3 L1385.1,781.3 L1386.1,781.3 L1387.2,781.3 L1388.2,781.3 L1389.3,781.3 L1390.3,781.4 L1391.3,781.4 L1392.4,781.5 L1393.4,781.7 L1394.5,781.8 L1395.5,781.9 L1396.5,782.1 L1397.6,782.3 L1398.6,782.5 L1399.7,782.7 L1400.7,783.0 L1401.7,783.2 L1402.8,783.5 L1403.8,783.8 L1404.8,784.1 L1405.9,784.4 L1406.9,784.7 L1407.9,785.1 L1408.9,785.4 L1410.0,785.8 L1411.0,786.2 L1412.0,786.6 L1413.0,787.0 L1414.1,787.4 L1415.1,787.8 L1416.1,788.3 L1417.1,788.7 L1418.1,789.2 L1419.2,789.7 L1420.2,790.1 L1421.2,790.6 L1422.2,791.1 L1423.2,791.7 L1424.2,792.2 L1425.2,792.7 L1426.2,793.3 L1427.2,793.8 L1428.2,794.4 L1429.2,794.9 L1430.2,795.5 L1431.2,796.1 L1432.2,796.6 L1433.2,797.2 L1434.1,797.8 L1435.1,798.4 L1436.1,799.0 L1437.1,799.6 L1438.1,800.2 L1439.0,800.8 L1440.0,801.4 L1441.0,802.1 L1441.9,802.7 L1442.9,803.3 L1443.8,803.9 L1444.8,804.6 L1445.8,805.2 L1446.7,805.8 L1447.6,806.4 L1448.6,807.1 L1449.5,807.7 L1450.5,808.3 L1451.4,809.0 L1452.3,809.6 L1453.3,810.2 L1454.2,810.8 L1455.1,811.4 L1456.0,812.1 L1456.9,812.7 L1457.8,813.3 L1458.8,813.9 L1459.7,814.5 L1460.6,815.1 L1461.5,815.7 L1462.4,816.3 L1463.3,816.9 L1464.2,817.4 L1465.1,818.0 L1466.1,818.6 L1467.0,819.1 L1467.9,819.7 L1468.8,820.2 L1469.8,820.7 L1470.7,821.3 L1471.6,821.8 L1472.6,822.3 L1473.5,822.8 L1474.5,823.3 L1475.4,823.7 L1476.4,824.2 L1477.4,824.6 L1478.3,825.1 L1479.3,825.5 L1480.3,825.9 L1481.3,826.3 L1482.3,826.7 L1483.3,827.1 L1484.4,827.5 L1485.4,827.8 L1486.5,828.2 L1487.5,828.5 L1488.6,828.8 L1489.7,829.1 L1490.7,829.3 L1491.8,829.6 L1492.9,829.8 L1494.0,830.0 L1495.1,830.1 L1496.2,830.2 L1497.3,830.3 L1498.4,830.4 L1499.5,830.4 L1500.6,830.4 L1501.7,830.4 L1502.7,830.3 L1503.8,830.1 L1504.9,830.0 L1505.9,829.8 L1507.0,829.5 L1508.0,829.2 L1509.1,828.9 L1510.1,828.6 L1511.1,828.2 L1512.1,827.8 L1513.1,827.3 L1514.1,826.9 L1515.0,826.4 L1516.0,825.8 L1516.9,825.3 L1517.8,824.7 L1518.7,824.1 L1519.6,823.4 L1520.4,822.8 L1521.3,822.1 L1522.1,821.3 L1522.9,820.6 L1523.7,819.9 L1524.5,819.1 L1525.2,818.3 L1525.9,817.5 L1526.6,816.6 L1527.3,815.8 L1527.9,814.9 L1528.6,814.0 L1529.2,813.1 L1529.7,812.2 L1530.3,811.2 L1530.8,810.3 L1531.4,809.3 L1531.9,808.4 L1532.3,807.4 L1532.8,806.4 L1533.3,805.4 L1533.7,804.4 L1534.1,803.4 L1534.6,802.3 L1535.0,801.3 L1535.4,800.3 L1535.8,799.2 L1536.2,798.2 L1536.6,797.1 L1536.9,796.1 L1537.3,795.0 L1537.7,794.0 L1538.1,793.0 L1538.5,791.9 L1538.9,790.9 L1539.2,789.8 L1539.6,788.8 L1540.0,787.7 L1540.4,786.7 L1540.7,785.6 L1541.1,784.6 L1541.5,783.5 L1541.9,782.5 L1542.2,781.4 L1542.6,780.4 L1543.0,779.3 L1543.3,778.3 L1543.7,777.2 L1544.1,776.2 L1544.4,775.1 L1544.8,774.1 L1545.1,773.0 L1545.5,772.0 L1545.9,771.0 L1546.2,769.9 L1546.6,768.9 L1546.9,767.8 L1547.3,766.8 L1547.6,765.7 L1548.0,764.7 L1548.3,763.6 L1548.7,762.6 L1549.0,761.5 L1549.3,760.5 L1549.7,759.4 L1550.0,758.3 L1550.4,757.3 L1550.7,756.2 L1551.0,755.2 L1551.4,754.1 L1551.7,753.1 L1552.0,752.0 L1552.3,751.0 L1552.7,749.9 L1553.0,748.9 L1553.3,747.8 L1553.6,746.8 L1553.9,745.7 L1554.2,744.7 L1554.5,743.6 L1554.8,742.6 L1555.1,741.5 L1555.5,740.5 L1555.7,739.4 L1556.0,738.4 L1556.3,737.3 L1556.6,736.2 L1556.9,735.2 L1557.2,734.1 L1557.5,733.1 L1557.8,732.0 L1558.1,731.0 L1558.3,729.9 L1558.6,728.9 L1558.9,727.8 L1559.2,726.7 L1559.4,725.7 L1559.7,724.6 L1560.0,723.6 L1560.3,722.5 L1560.5,721.5 L1560.8,720.4 L1561.1,719.3 L1561.3,718.3 L1561.6,717.2 L1561.8,716.2 L1562.1,715.1 L1562.3,714.1 L1562.6,713.0 L1562.9,711.9 L1563.1,710.9 L1563.4,709.8 L1563.6,708.8 L1563.9,707.7 L1564.1,706.7 L1564.4,705.6 L1564.6,704.5 L1564.9,703.5 L1565.1,702.4 L1565.3,701.4 L1565.6,700.3 L1565.8,699.2 L1566.1,698.2 L1566.3,697.1 L1566.6,696.1 L1566.8,695.0 L1567.0,694.0 L1567.3,692.9 L1567.5,691.8 L1567.8,690.8 L1568.0,689.7 L1568.2,688.7 L1568.5,687.6 L1568.7,686.5 L1569.0,685.5 L1569.2,684.4 L1569.5,683.4 L1569.7,682.3 L1569.9,681.2 L1570.2,680.2 L1570.4,679.1 L1570.7,678.1 L1570.9,677.0 L1571.1,675.9 L1571.4,674.9 L1571.6,673.8 L1571.9,672.8 L1572.1,671.7 L1572.4,670.7 L1572.6,669.6 L1572.9,668.5 L1573.1,667.5 L1573.4,666.4 L1573.6,665.4 L1573.9,664.3 L1574.1,663.2 L1574.4,662.2 L1574.6,661.1 L1574.9,660.1 L1575.1,659.0 L1575.4,657.9 L1575.6,656.9 L1575.9,655.8 L1576.2,654.8 L1576.4,653.7 L1576.7,652.7 L1577.0,651.6 L1577.2,650.5 L1577.5,649.5 L1577.8,648.4 L1578.0,647.4 L1578.3,646.3 L1578.6,645.3 L1578.9,644.2 L1579.1,643.1 L1579.4,642.1 L1579.7,641.0 L1580.0,640.0 L1580.3,638.9 L1580.6,637.9 L1580.9,636.8 L1581.2,635.7 L1581.5,634.7 L1581.8,633.6 L1582.1,632.6 L1582.4,631.5 L1582.7,630.5 L1583.0,629.4 L1583.3,628.3 L1583.6,627.3 L1583.9,626.2 L1584.2,625.2 L1584.6,624.1 L1584.9,623.1 L1585.2,622.0 L1585.5,621.0 L1585.9,619.9 L1586.2,618.9 L1586.6,617.8 L1586.9,616.7 L1587.2,615.7 L1587.6,614.6 L1587.9,613.6 L1588.3,612.5 L1588.7,611.5 L1589.0,610.4 L1589.4,609.4 L1589.8,608.3 L1590.1,607.3 L1590.5,606.2 L1590.9,605.2 L1591.3,604.1 L1591.7,603.1 L1592.1,602.0 L1592.4,601.0 L1592.8,599.9 L1593.2,598.9 L1593.7,597.8 L1594.1,596.8 L1594.5,595.7 L1594.9,594.7 L1595.3,593.6 L1595.7,592.6 L1596.2,591.5 L1596.6,590.5 L1597.1,589.4 L1597.5,588.4 L1597.9,587.3 L1598.4,586.3 L1598.9,585.3 L1599.3,584.2 L1599.8,583.2 L1600.3,582.1 L1600.8,581.1 L1601.2,580.1 L1601.7,579.1 L1602.2,578.1 L1602.7,577.0 L1603.3,576.1 L1603.8,575.1 L1604.3,574.1 L1604.9,573.1 L1605.4,572.2 L1606.0,571.2 L1606.5,570.3 L1607.1,569.4 L1607.7,568.4 L1608.3,567.6 L1608.9,566.7 L1609.5,565.8 L1610.2,565.0 L1610.8,564.1 L1611.5,563.3 L1612.1,562.5 L1612.8,561.7 L1613.5,561.0 L1614.2,560.2 L1614.9,559.5 L1615.7,558.8 L1616.4,558.2 L1617.2,557.5 L1618.0,556.9 L1618.7,556.3 L1619.6,555.7 L1620.4,555.1 L1621.2,554.6 L1622.1,554.1 L1622.9,553.6 L1623.8,553.2 L1624.7,552.8 L1625.6,552.4 L1626.6,552.0 L1627.5,551.7 L1628.5,551.4 L1629.5,551.2 L1630.5,550.9 L1631.5,550.7 L1632.6,550.6 L1633.6,550.5 L1634.7,550.4 L1635.8,550.3 L1636.9,550.3 L1638.1,550.3 L1639.2,550.4 L1640.4,550.5 L1641.5,550.6 L1642.7,550.7 L1643.9,550.9 L1645.0,551.1 L1646.2,551.4 L1647.4,551.6 L1648.5,551.9 L1649.6,552.3 L1650.8,552.6 L1651.9,553.0 L1653.0,553.4 L1654.0,553.8 L1655.1,554.3 L1656.1,554.8 L1657.1,555.3 L1658.1,555.8 L1659.0,556.4 L1660.0,556.9 L1660.9,557.5 L1661.8,558.1 L1662.7,558.7 L1663.6,559.3 L1664.5,560.0 L1665.4,560.6 L1666.3,561.3 L1667.2,561.9 L1668.0,562.6 L1668.9,563.3 L1669.8,563.9 L1670.6,564.6 L1671.5,565.3 L1672.4,566.0 L1673.2,566.6 L1674.1,567.3 L1675.0,568.0 L1675.8,568.7 L1676.7,569.3 L1677.6,570.0 L1678.5,570.7 L1679.4,571.4 L1680.2,572.1 L1681.1,572.7 L1682.0,573.4 L1682.9,574.1 L1683.8,574.7 L1684.7,575.4 L1685.6,576.1 L1686.5,576.7 L1687.4,577.4 L1688.3,578.0 L1689.2,578.7 L1690.1,579.3 L1691.0,580.0 L1691.9,580.6 L1692.8,581.2 L1693.8,581.8 L1694.7,582.5 L1695.6,583.1 L1696.5,583.7 L1697.5,584.3 L1698.4,584.9 L1699.3,585.5 L1700.3,586.1 L1701.2,586.6 L1702.1,587.2 L1703.1,587.8 L1704.0,588.3 L1705.0,588.9 L1705.9,589.4 L1706.9,590.0 L1707.9,590.5 L1708.8,591.0 L1709.8,591.5 L1710.8,592.0 L1711.7,592.5 L1712.7,593.0 L1713.7,593.4 L1714.7,593.9 L1715.7,594.3 L1716.6,594.8 L1717.6,595.2 L1718.6,595.6 L1719.6,596.0 L1720.6,596.4 L1721.6,596.8 L1722.7,597.1 L1723.7,597.5 L1724.7,597.8 L1725.7,598.1 L1726.7,598.5 L1727.8,598.8 L1728.8,599.1 L1729.8,599.3 L1730.9,599.6 L1731.9,599.8 L1733.0,600.1 L1734.0,600.3 L1735.1,600.5 L1736.2,600.7 L1737.2,600.8 L1738.3,601.0 L1739.4,601.1 L1740.4,601.2 L1741.5,601.4 L1742.6,601.4 L1743.7,601.5 L1744.8,601.6 L1745.9,601.6 L1747.0,601.6 L1748.1,601.6 L1749.2,601.6 L1750.3,601.6 L1751.4,601.6 L1752.5,601.5 L1753.6,601.4 L1754.7,601.3 L1755.8,601.2 L1756.9,601.1 L1758.0,601.0 L1759.2,600.8 L1760.3,600.6 L1761.3,600.5 L1762.4,600.3 L1763.5,600.0 L1764.6,599.8 L1765.7,599.5 L1766.8,599.3 L1767.9,599.0 L1768.9,598.7 L1770.0,598.4 L1771.1,598.0 L1772.1,597.7 L1773.2,597.3 L1774.2,596.9 L1775.3,596.5 L1776.3,596.1 L1777.3,595.7 L1778.3,595.2 L1779.3,594.8 L1780.3,594.3 L1781.3,593.8 L1782.3,593.3 L1783.3,592.8 L1784.2,592.2 L1785.2,591.7 L1786.1,591.1 L1787.0,590.5 L1788.0,589.9 L1788.9,589.3 L1789.8,588.6 L1790.6,588.0 L1791.5,587.3 L1792.4,586.6 L1793.3,586.0 L1794.1,585.3 L1795.0,584.6 L1795.8,583.8 L1796.6,583.1 L1797.5,582.4 L1798.3,581.7 L1799.1,580.9 L1800.0,580.2 L1800.8,579.5 L1801.6,578.7 L1802.4,578.0 L1803.2,577.3 L1804.1,576.5 L1804.9,575.8 L1805.7,575.1 L1806.6,574.4 L1807.4,573.6 L1808.2,572.9 L1809.1,572.2 L1809.9,571.5 L1810.8,570.9 L1811.6,570.2 L1812.5,569.5 L1813.4,568.9 L1814.3,568.2 L1815.2,567.6 L1816.1,567.0 L1817.0,566.4 L1817.9,565.8 L1818.8,565.2 L1819.7,564.6 L1820.6,564.0 L1821.6,563.5 L1822.5,562.9 L1823.4,562.4 L1824.4,561.8 L1825.3,561.3 L1826.3,560.8 L1827.3,560.3 L1828.2,559.8 L1829.2,559.4 L1830.2,558.9 L1831.2,558.5 L1832.2,558.0 L1833.2,557.6 L1834.2,557.2 L1835.2,556.8 L1836.2,556.4 L1837.2,556.0 L1838.2,555.6 L1839.2,555.2 L1840.3,554.9 L1841.3,554.5 L1842.3,554.2 L1843.4,553.9 L1844.4,553.6 L1845.5,553.3 L1846.5,553.0 L1847.6,552.7 L1848.7,552.5 L1849.7,552.2 L1850.8,552.0 L1851.9,551.8 L1852.9,551.5 L1854.0,551.3 L1855.1,551.2 L1856.2,551.0 L1857.3,550.8 L1858.4,550.6 L1859.5,550.5 L1860.6,550.4 L1861.7,550.3 L1862.8,550.1 L1863.9,550.0 L1865.0,550.0 L1866.1,549.9 L1867.2,549.8 L1868.3,549.8 L1869.4,549.7 L1870.5,549.7 L1871.6,549.7 L1872.7,549.7 L1873.9,549.7 L1875.0,549.7 L1876.1,549.7 L1877.2,549.7 L1878.3,549.8 L1879.4,549.8 L1880.5,549.9 L1881.6,550.0 L1882.7,550.0 L1883.8,550.1 L1884.9,550.2 L1886.0,550.3 L1887.0,550.5 L1888.1,550.6 L1889.2,550.7 L1890.3,550.8 L1891.4,551.0 L1892.5,551.1 L1893.5,551.3 L1894.6,551.4 L1895.7,551.6 L1896.8,551.8 L1897.9,551.9 L1898.9,552.1 L1900.0,552.3 L1901.1,552.4 L1902.2,552.6 L1903.2,552.8 L1904.3,553.0 L1905.4,553.1 L1906.5,553.3 L1907.5,553.5 L1908.6,553.6 L1909.7,553.8 L1910.8,554.0 L1911.8,554.1 L1912.9,554.3 L1914.0,554.5 L1915.1,554.6 L1916.2,554.8 L1917.2,554.9 L1918.3,555.0 L1919.4,555.2 L1920.5,555.3 L1921.6,555.4 L1922.7,555.5 L1923.8,555.6 L1924.8,555.7 L1925.9,555.8 L1927.0,555.9 L1928.1,555.9 L1929.2,556.0 L1930.3,556.0 L1931.4,556.0 L1932.5,556.1 L1933.7,556.1 L1934.8,556.1 L1935.9,556.0 L1937.0,556.0" fill="none" stroke="#00f" stroke-width="10.3" stroke-linejoin="round" stroke-linecap="butt" clip-path="url(#cb)"/>
<rect x="247.0" y="72.0" width="739.5" height="1239.0" fill="none" stroke="#000" stroke-width="5.8"/>
<path d="M221.0,72.00 H247.0 M233.5,175.25 H247.0 M221.0,278.50 H247.0 M233.5,381.75 H247.0 M221.0,485.00 H247.0 M233.5,588.25 H247.0 M221.0,691.50 H247.0 M233.5,794.75 H247.0 M221.0,898.00 H247.0 M233.5,1001.25 H247.0 M221.0,1104.50 H247.0 M233.5,1207.75 H247.0 M221.0,1311.00 H247.0 M247.00,1311.0 V1337.0 M339.44,1311.0 V1324.5 M431.88,1311.0 V1337.0 M524.31,1311.0 V1324.5 M616.75,1311.0 V1337.0 M709.19,1311.0 V1324.5 M801.62,1311.0 V1337.0 M894.06,1311.0 V1324.5 M986.50,1311.0 V1337.0" stroke="#000" stroke-width="5.8" fill="none"/>
<text transform="translate(172.07,89.30) scale(1.000,1.040)" font-family="'Liberation Sans', Arial, sans-serif" font-weight="bold" font-size="65.5" fill="#000">9</text>
<text transform="translate(172.07,295.80) scale(1.000,1.040)" font-family="'Liberation Sans', Arial, sans-serif" font-weight="bold" font-size="65.5" fill="#000">6</text>
<text transform="translate(172.07,502.30) scale(1.000,1.040)" font-family="'Liberation Sans', Arial, sans-serif" font-weight="bold" font-size="65.5" fill="#000">3</text>
<text transform="translate(172.07,708.80) scale(1.000,1.040)" font-family="'Liberation Sans', Arial, sans-serif" font-weight="bold" font-size="65.5" fill="#000">0</text>
<text transform="translate(150.26,915.30) scale(1.000,1.040)" font-family="'Liberation Sans', Arial, sans-serif" font-weight="bold" font-size="65.5" fill="#000">-3</text>
<text transform="translate(150.26,1121.80) scale(1.000,1.040)" font-family="'Liberation Sans', Arial, sans-serif" font-weight="bold" font-size="65.5" fill="#000">-6</text>
<text transform="translate(150.26,1328.30) scale(1.000,1.040)" font-family="'Liberation Sans', Arial, sans-serif" font-weight="bold" font-size="65.5" fill="#000">-9</text>
<text transform="translate(181.45,1399.00) scale(1.000,1.040)" font-family="'Liberation Sans', Arial, sans-serif" font-weight="bold" font-size="65.5" fill="#000">-</text>
<text transform="translate(203.26,1399.00) scale(1.000,1.040)" font-family="'Liberation Sans', Arial, sans-serif" font-weight="bold" font-size="65.5" fill="#000" clip-path="url(#c1_65_5)">1</text>
<text transform="translate(239.69,1399.00) scale(1.000,1.040)" font-family="'Liberation Sans', Arial, sans-serif" font-weight="bold" font-size="65.5" fill="#000">00</text>
<text transform="translate(384.54,1399.00) scale(1.000,1.040)" font-family="'Liberation Sans', Arial, sans-serif" font-weight="bold" font-size="65.5" fill="#000">-50</text>
<text transform="translate(598.54,1399.00) scale(1.000,1.040)" font-family="'Liberation Sans', Arial, sans-serif" font-weight="bold" font-size="65.5" fill="#000">0</text>
<text transform="translate(765.20,1399.00) scale(1.000,1.040)" font-family="'Liberation Sans', Arial, sans-serif" font-weight="bold" font-size="65.5" fill="#000">50</text>
<text transform="translate(931.86,1399.00) scale(1.000,1.040)" font-family="'Liberation Sans', Arial, sans-serif" font-weight="bold" font-size="65.5" fill="#000" clip-path="url(#c1_65_5)">1</text>
<text transform="translate(968.29,1399.00) scale(1.000,1.040)" font-family="'Liberation Sans', Arial, sans-serif" font-weight="bold" font-size="65.5" fill="#000">00</text>
<rect x="1198.0" y="72.0" width="739.0" height="1239.0" fill="none" stroke="#000" stroke-width="5.8"/>
<path d="M1172.0,72.00 H1198.0 M1184.5,175.25 H1198.0 M1172.0,278.50 H1198.0 M1184.5,381.75 H1198.0 M1172.0,485.00 H1198.0 M1184.5,588.25 H1198.0 M1172.0,691.50 H1198.0 M1184.5,794.75 H1198.0 M1172.0,898.00 H1198.0 M1184.5,1001.25 H1198.0 M1172.0,1104.50 H1198.0 M1184.5,1207.75 H1198.0 M1172.0,1311.00 H1198.0 M1198.00,1311.0 V1337.0 M1290.38,1311.0 V1324.5 M1382.75,1311.0 V1337.0 M1475.12,1311.0 V1324.5 M1567.50,1311.0 V1337.0 M1659.88,1311.0 V1324.5 M1752.25,1311.0 V1337.0 M1844.62,1311.0 V1324.5 M1937.00,1311.0 V1337.0" stroke="#000" stroke-width="5.8" fill="none"/>
<text transform="translate(1122.07,89.30) scale(1.000,1.040)" font-family="'Liberation Sans', Arial, sans-serif" font-weight="bold" font-size="65.5" fill="#000">9</text>
<text transform="translate(1122.07,295.80) scale(1.000,1.040)" font-family="'Liberation Sans', Arial, sans-serif" font-weight="bold" font-size="65.5" fill="#000">6</text>
<text transform="translate(1122.07,502.30) scale(1.000,1.040)" font-family="'Liberation Sans', Arial, sans-serif" font-weight="bold" font-size="65.5" fill="#000">3</text>
<text transform="translate(1122.07,708.80) scale(1.000,1.040)" font-family="'Liberation Sans', Arial, sans-serif" font-weight="bold" font-size="65.5" fill="#000">0</text>
<text transform="translate(1100.26,915.30) scale(1.000,1.040)" font-family="'Liberation Sans', Arial, sans-serif" font-weight="bold" font-size="65.5" fill="#000">-3</text>
<text transform="translate(1100.26,1121.80) scale(1.000,1.040)" font-family="'Liberation Sans', Arial, sans-serif" font-weight="bold" font-size="65.5" fill="#000">-6</text>
<text transform="translate(1100.26,1328.30) scale(1.000,1.040)" font-family="'Liberation Sans', Arial, sans-serif" font-weight="bold" font-size="65.5" fill="#000">-9</text>
<text transform="translate(1132.45,1399.00) scale(1.000,1.040)" font-family="'Liberation Sans', Arial, sans-serif" font-weight="bold" font-size="65.5" fill="#000">-</text>
<text transform="translate(1154.26,1399.00) scale(1.000,1.040)" font-family="'Liberation Sans', Arial, sans-serif" font-weight="bold" font-size="65.5" fill="#000" clip-path="url(#c1_65_5)">1</text>
<text transform="translate(1190.69,1399.00) scale(1.000,1.040)" font-family="'Liberation Sans', Arial, sans-serif" font-weight="bold" font-size="65.5" fill="#000">00</text>
<text transform="translate(1335.42,1399.00) scale(1.000,1.040)" font-family="'Liberation Sans', Arial, sans-serif" font-weight="bold" font-size="65.5" fill="#000">-50</text>
<text transform="translate(1549.29,1399.00) scale(1.000,1.040)" font-family="'Liberation Sans', Arial, sans-serif" font-weight="bold" font-size="65.5" fill="#000">0</text>
<text transform="translate(1715.82,1399.00) scale(1.000,1.040)" font-family="'Liberation Sans', Arial, sans-serif" font-weight="bold" font-size="65.5" fill="#000">50</text>
<text transform="translate(1882.36,1399.00) scale(1.000,1.040)" font-family="'Liberation Sans', Arial, sans-serif" font-weight="bold" font-size="65.5" fill="#000" clip-path="url(#c1_65_5)">1</text>
<text transform="translate(1918.79,1399.00) scale(1.000,1.040)" font-family="'Liberation Sans', Arial, sans-serif" font-weight="bold" font-size="65.5" fill="#000">00</text>
<text transform="translate(489.50,1481.00) scale(1.000,1.040)" font-family="'Liberation Sans', Arial, sans-serif" font-weight="bold" font-size="71" fill="#000">V</text>
<text transform="translate(536.30,1510.00) scale(1.000,1.040)" font-family="'Liberation Sans', Arial, sans-serif" font-weight="bold" font-size="41" fill="#000">bias</text>
<text transform="translate(618.00,1481.00) scale(1.000,1.040)" font-family="'Liberation Sans', Arial, sans-serif" font-weight="bold" font-size="71" fill="#000">(mV)</text>
<text transform="translate(1439.40,1466.00) scale(1.000,1.040)" font-family="'Liberation Sans', Arial, sans-serif" font-weight="bold" font-size="71" fill="#000">V</text>
<text transform="translate(1486.20,1495.00) scale(1.000,1.040)" font-family="'Liberation Sans', Arial, sans-serif" font-weight="bold" font-size="41" fill="#000">bias</text>
<text transform="translate(1567.90,1466.00) scale(1.000,1.040)" font-family="'Liberation Sans', Arial, sans-serif" font-weight="bold" font-size="71" fill="#000">(mV)</text>
<g transform="translate(90.3,782.8) rotate(-90)">
<text transform="translate(0.00,0.00) scale(1,1.04)" font-family="'Liberation Sans', Arial, sans-serif" font-weight="bold" font-size="71" fill="#000" clip-path="url(#cJ_71)">J</text>
<text transform="translate(59.21,0.00) scale(1.000,1.040)" font-family="'Liberation Sans', Arial, sans-serif" font-weight="bold" font-size="71" fill="#000">(</text>
<text transform="translate(84.70,0.00) scale(1,1.04)" font-family="'Liberation Sans', Arial, sans-serif" font-weight="bold" font-size="71" fill="#000" clip-path="url(#cJ_71)">J</text>
<text transform="translate(125.30,27.30) scale(1.000,1.040)" font-family="'Liberation Sans', Arial, sans-serif" font-weight="bold" font-size="41" fill="#000">0</text>
<text transform="translate(150.80,0.00) scale(1.000,1.040)" font-family="'Liberation Sans', Arial, sans-serif" font-weight="bold" font-size="71" fill="#000">)</text>
</g>
<text transform="translate(292.80,142.70) scale(1.000,1.040)" font-family="'Liberation Sans', Arial, sans-serif" font-weight="bold" font-size="54.5" fill="#000">(a)</text>
<text transform="translate(529.40,161.50) scale(1.000,1.040)" font-family="'Liberation Sans', Arial, sans-serif" font-weight="bold" font-size="54.5" fill="#000">T</text>
<text transform="translate(577.83,159.86) scale(1.000,0.951)" font-family="'Liberation Sans', Arial, sans-serif" font-weight="bold" font-size="54.5" fill="#000">=</text>
<text transform="translate(624.80,161.50) scale(1.000,1.040)" font-family="'Liberation Sans', Arial, sans-serif" font-weight="bold" font-size="54.5" fill="#000" clip-path="url(#c1_54_5)">1</text>
<text transform="translate(655.11,161.50) scale(1.000,1.040)" font-family="'Liberation Sans', Arial, sans-serif" font-weight="bold" font-size="54.5" fill="#000">2</text>
<text transform="translate(700.56,161.50) scale(1.000,1.040)" font-family="'Liberation Sans', Arial, sans-serif" font-weight="bold" font-size="54.5" fill="#000">K</text>
<text transform="translate(529.40,235.00) scale(1.220,1.000)" font-family="'Liberation Serif', 'Times New Roman', serif" font-weight="normal" font-size="57" stroke="#000" stroke-width="1.0" fill="#000">&#956;</text>
<text transform="translate(575.70,232.35) scale(1.000,0.917)" font-family="'Liberation Sans', Arial, sans-serif" font-weight="bold" font-size="54.5" fill="#000">=</text>
<text transform="translate(622.50,235.00) scale(1.000,1.040)" font-family="'Liberation Sans', Arial, sans-serif" font-weight="bold" font-size="54.5" fill="#000">U</text>
<text transform="translate(662.40,257.00) scale(1.000,1.040)" font-family="'Liberation Sans', Arial, sans-serif" font-weight="bold" font-size="54.5" fill="#000" clip-path="url(#c1_54_5)">1</text>
<text transform="translate(707.30,488.70) scale(1.000,1.040)" font-family="'Liberation Sans', Arial, sans-serif" font-weight="bold" font-size="54.5" fill="#000">NDC</text>
<text transform="translate(370.50,942.90) scale(1.000,1.040)" font-family="'Liberation Sans', Arial, sans-serif" font-weight="bold" font-size="54.5" fill="#000">NDC</text>
<path d="M504.8,889.5 H632.1" stroke="#000" stroke-width="10" stroke-linecap="round"/>
<text transform="translate(648.00,908.00) scale(1.060,1.000)" font-family="'Liberation Serif', 'Times New Roman', serif" font-weight="normal" font-size="51" fill="#000">&#915;</text>
<text transform="translate(676.90,934.70) scale(1.000,1.040)" font-family="'Liberation Sans', Arial, sans-serif" font-weight="bold" font-size="48" fill="#000">e,t</text>
<text transform="translate(747.50,903.66) scale(1.000,0.860)" font-family="'Liberation Sans', Arial, sans-serif" font-weight="bold" font-size="48" fill="#000">=</text>
<text transform="translate(789.00,908.00) scale(1.000,1.040)" font-family="'Liberation Sans', Arial, sans-serif" font-weight="bold" font-size="48" fill="#000">t</text>
<text transform="translate(806.20,934.70) scale(1.000,1.040)" font-family="'Liberation Sans', Arial, sans-serif" font-weight="bold" font-size="48" fill="#000">LR</text>
<text transform="translate(870.20,908.00) scale(1.000,1.040)" font-family="'Liberation Sans', Arial, sans-serif" font-weight="bold" font-size="48" fill="#000">/3</text>
<path d="M504.8,998.9 H632.1" stroke="#f00" stroke-width="10" stroke-linecap="round"/>
<text transform="translate(646.00,1017.90) scale(1.060,1.000)" font-family="'Liberation Serif', 'Times New Roman', serif" font-weight="normal" font-size="51" fill="#000">&#915;</text>
<text transform="translate(674.90,1044.60) scale(1.000,1.040)" font-family="'Liberation Sans', Arial, sans-serif" font-weight="bold" font-size="48" fill="#000">e,t</text>
<text transform="translate(745.50,1013.56) scale(1.000,0.860)" font-family="'Liberation Sans', Arial, sans-serif" font-weight="bold" font-size="48" fill="#000">=</text>
<text transform="translate(787.90,1017.90) scale(1.000,1.040)" font-family="'Liberation Sans', Arial, sans-serif" font-weight="bold" font-size="48" fill="#000">2</text>
<text transform="translate(827.90,1017.90) scale(1.000,1.040)" font-family="'Liberation Sans', Arial, sans-serif" font-weight="bold" font-size="48" fill="#000">t</text>
<text transform="translate(844.00,1044.60) scale(1.000,1.040)" font-family="'Liberation Sans', Arial, sans-serif" font-weight="bold" font-size="48" fill="#000">LR</text>
<text transform="translate(908.00,1017.90) scale(1.000,1.040)" font-family="'Liberation Sans', Arial, sans-serif" font-weight="bold" font-size="48" fill="#000">/3</text>
<path d="M504.8,1108.9 H632.1" stroke="#0f0" stroke-width="10" stroke-linecap="round"/>
<text transform="translate(646.00,1127.70) scale(1.060,1.000)" font-family="'Liberation Serif', 'Times New Roman', serif" font-weight="normal" font-size="51" fill="#000">&#915;</text>
<text transform="translate(674.90,1154.40) scale(1.000,1.040)" font-family="'Liberation Sans', Arial, sans-serif" font-weight="bold" font-size="48" fill="#000">e,t</text>
<text transform="translate(745.50,1123.36) scale(1.000,0.860)" font-family="'Liberation Sans', Arial, sans-serif" font-weight="bold" font-size="48" fill="#000">=</text>
<text transform="translate(787.10,1127.70) scale(1.000,1.040)" font-family="'Liberation Sans', Arial, sans-serif" font-weight="bold" font-size="48" fill="#000">t</text>
<text transform="translate(804.30,1154.40) scale(1.000,1.040)" font-family="'Liberation Sans', Arial, sans-serif" font-weight="bold" font-size="48" fill="#000">LR</text>
<path d="M504.8,1218.6 H632.1" stroke="#00f" stroke-width="10" stroke-linecap="round"/>
<text transform="translate(646.00,1237.60) scale(1.060,1.000)" font-family="'Liberation Serif', 'Times New Roman', serif" font-weight="normal" font-size="51" fill="#000">&#915;</text>
<text transform="translate(674.90,1264.30) scale(1.000,1.040)" font-family="'Liberation Sans', Arial, sans-serif" font-weight="bold" font-size="48" fill="#000">e,t</text>
<text transform="translate(745.50,1233.26) scale(1.000,0.860)" font-family="'Liberation Sans', Arial, sans-serif" font-weight="bold" font-size="48" fill="#000">=</text>
<text transform="translate(787.70,1237.60) scale(1.000,1.040)" font-family="'Liberation Sans', Arial, sans-serif" font-weight="bold" font-size="48" fill="#000">4</text>
<text transform="translate(827.90,1237.60) scale(1.000,1.040)" font-family="'Liberation Sans', Arial, sans-serif" font-weight="bold" font-size="48" fill="#000">t</text>
<text transform="translate(844.50,1264.30) scale(1.000,1.040)" font-family="'Liberation Sans', Arial, sans-serif" font-weight="bold" font-size="48" fill="#000">LR</text>
<text transform="translate(908.00,1237.60) scale(1.000,1.040)" font-family="'Liberation Sans', Arial, sans-serif" font-weight="bold" font-size="48" fill="#000">/3</text>
<path d="M781,494 L778.4,540" stroke="#000" stroke-width="3.6" stroke-linecap="round"/>
<path d="M776.9,567.6 L769.8,536.2 L786.9,536.2 Z" fill="#000" stroke="#000" stroke-width="1.5" stroke-linejoin="round"/>
<path d="M429,886.6 L461,856" stroke="#000" stroke-width="3.6" stroke-linecap="round"/>
<path d="M482.9,835.2 L455,851.3 L465.7,862.6 Z" fill="#000" stroke="#000" stroke-width="1.5" stroke-linejoin="round"/>
<path d="M1399.5,865.1 L1426,841.5" stroke="#000" stroke-width="3.6" stroke-linecap="round"/>
<path d="M1447.5,821.7 L1419.6,837.2 L1429.7,847.3 Z" fill="#000" stroke="#000" stroke-width="1.5" stroke-linejoin="round"/>
<path d="M1723.6,523.4 L1716.5,551" stroke="#000" stroke-width="3.6" stroke-linecap="round"/>
<path d="M1709.1,577.3 L1708.5,549.3 L1724.7,549.3 Z" fill="#000" stroke="#000" stroke-width="1.5" stroke-linejoin="round"/>
<text transform="translate(1242.80,150.00) scale(1.000,1.040)" font-family="'Liberation Sans', Arial, sans-serif" font-weight="bold" font-size="54.5" fill="#000">(b)</text>
<text transform="translate(1348.40,190.50) scale(1.080,1.000)" font-family="'Liberation Serif', 'Times New Roman', serif" font-weight="normal" font-size="55" fill="#000">&#915;</text>
<text transform="translate(1380.30,217.40) scale(1.000,1.040)" font-family="'Liberation Sans', Arial, sans-serif" font-weight="bold" font-size="54.5" fill="#000">e,t</text>
<text transform="translate(1457.70,187.35) scale(1.000,0.917)" font-family="'Liberation Sans', Arial, sans-serif" font-weight="bold" font-size="54.5" fill="#000">=</text>
<text transform="translate(1505.80,189.50) scale(1.000,1.040)" font-family="'Liberation Sans', Arial, sans-serif" font-weight="bold" font-size="54.5" fill="#000">t</text>
<text transform="translate(1523.30,217.10) scale(1.000,1.040)" font-family="'Liberation Sans', Arial, sans-serif" font-weight="bold" font-size="54.5" fill="#000">LR</text>
<text transform="translate(1338.70,295.40) scale(1.000,1.040)" font-family="'Liberation Sans', Arial, sans-serif" font-weight="bold" font-size="54.5" fill="#000">E</text>
<text transform="translate(1374.10,322.00) scale(1.000,1.040)" font-family="'Liberation Sans', Arial, sans-serif" font-weight="bold" font-size="54.5" fill="#000">L</text>
<text transform="translate(1421.40,292.75) scale(1.000,0.917)" font-family="'Liberation Sans', Arial, sans-serif" font-weight="bold" font-size="54.5" fill="#000">=</text>
<text transform="translate(1468.10,295.40) scale(1.060,1.000)" font-family="'Liberation Serif', 'Times New Roman', serif" font-weight="normal" font-size="56" stroke="#000" stroke-width="1.2" fill="#000">&#951;</text>
<text transform="translate(1500.10,322.00) scale(1.000,1.040)" font-family="'Liberation Sans', Arial, sans-serif" font-weight="bold" font-size="54.5" fill="#000">L</text>
<text transform="translate(1532.70,295.40) scale(1.000,1.040)" font-family="'Liberation Sans', Arial, sans-serif" font-weight="bold" font-size="54.5" fill="#000">eV</text>
<text transform="translate(1598.40,322.40) scale(1.000,1.040)" font-family="'Liberation Sans', Arial, sans-serif" font-weight="bold" font-size="54.5" fill="#000">bias</text>
<text transform="translate(1338.70,404.00) scale(1.000,1.040)" font-family="'Liberation Sans', Arial, sans-serif" font-weight="bold" font-size="54.5" fill="#000">E</text>
<text transform="translate(1374.10,430.60) scale(1.000,1.040)" font-family="'Liberation Sans', Arial, sans-serif" font-weight="bold" font-size="54.5" fill="#000">R</text>
<text transform="translate(1427.90,401.35) scale(1.000,0.917)" font-family="'Liberation Sans', Arial, sans-serif" font-weight="bold" font-size="54.5" fill="#000">=</text>
<text transform="translate(1475.80,404.00) scale(1.060,1.000)" font-family="'Liberation Serif', 'Times New Roman', serif" font-weight="normal" font-size="56" stroke="#000" stroke-width="1.2" fill="#000">&#951;</text>
<text transform="translate(1506.60,430.60) scale(1.000,1.040)" font-family="'Liberation Sans', Arial, sans-serif" font-weight="bold" font-size="54.5" fill="#000">R</text>
<text transform="translate(1559.90,404.00) scale(1.000,1.040)" font-family="'Liberation Sans', Arial, sans-serif" font-weight="bold" font-size="54.5" fill="#000">eV</text>
<text transform="translate(1626.40,431.00) scale(1.000,1.040)" font-family="'Liberation Sans', Arial, sans-serif" font-weight="bold" font-size="54.5" fill="#000">bias</text>
<text transform="translate(1565.90,805.00) scale(1.060,1.000)" font-family="'Liberation Serif', 'Times New Roman', serif" font-weight="normal" font-size="56" stroke="#000" stroke-width="1.2" fill="#000">&#951;</text>
<text transform="translate(1598.10,831.00) scale(1.000,1.040)" font-family="'Liberation Sans', Arial, sans-serif" font-weight="bold" font-size="54.5" fill="#000">L</text>
<text transform="translate(1645.80,801.95) scale(1.000,0.917)" font-family="'Liberation Sans', Arial, sans-serif" font-weight="bold" font-size="54.5" fill="#000">=</text>
<text transform="translate(1690.20,809.60) scale(1.100,1.000)" font-family="'Liberation Serif', 'Times New Roman', serif" font-weight="normal" font-size="56" fill="#000">&#8722;</text>
<text transform="translate(1734.90,805.00) scale(1.060,1.000)" font-family="'Liberation Serif', 'Times New Roman', serif" font-weight="normal" font-size="56" stroke="#000" stroke-width="1.2" fill="#000">&#951;</text>
<text transform="translate(1767.50,831.00) scale(1.000,1.040)" font-family="'Liberation Sans', Arial, sans-serif" font-weight="bold" font-size="54.5" fill="#000">R</text>
<text transform="translate(1820.70,801.95) scale(1.000,0.917)" font-family="'Liberation Sans', Arial, sans-serif" font-weight="bold" font-size="54.5" fill="#000">=</text>
<text transform="translate(1868.00,805.00) scale(1.060,1.000)" font-family="'Liberation Serif', 'Times New Roman', serif" font-weight="normal" font-size="56" stroke="#000" stroke-width="1.2" fill="#000">&#951;</text>
<text transform="translate(1349.30,914.80) scale(1.000,1.040)" font-family="'Liberation Sans', Arial, sans-serif" font-weight="bold" font-size="54.5" fill="#000">NDC</text>
<text transform="translate(1682.20,510.50) scale(1.000,1.040)" font-family="'Liberation Sans', Arial, sans-serif" font-weight="bold" font-size="54.5" fill="#000">NDC</text>
<path d="M1519.2,941.8 H1645.6" stroke="#000" stroke-width="10" stroke-linecap="round"/>
<text transform="translate(1661.40,960.70) scale(1.060,1.000)" font-family="'Liberation Serif', 'Times New Roman', serif" font-weight="normal" font-size="56" stroke="#000" stroke-width="1.2" fill="#000">&#951;</text>
<text transform="translate(1706.30,958.05) scale(1.000,0.917)" font-family="'Liberation Sans', Arial, sans-serif" font-weight="bold" font-size="54.5" fill="#000">=</text>
<text transform="translate(1752.30,961.40) scale(1.000,1.040)" font-family="'Liberation Sans', Arial, sans-serif" font-weight="bold" font-size="54.5" fill="#000">0.04</text>
<path d="M1519.2,1013.0 H1645.6" stroke="#f00" stroke-width="10" stroke-linecap="round"/>
<text transform="translate(1661.40,1031.70) scale(1.060,1.000)" font-family="'Liberation Serif', 'Times New Roman', serif" font-weight="normal" font-size="56" stroke="#000" stroke-width="1.2" fill="#000">&#951;</text>
<text transform="translate(1706.30,1029.05) scale(1.000,0.917)" font-family="'Liberation Sans', Arial, sans-serif" font-weight="bold" font-size="54.5" fill="#000">=</text>
<text transform="translate(1752.30,1032.40) scale(1.000,1.040)" font-family="'Liberation Sans', Arial, sans-serif" font-weight="bold" font-size="54.5" fill="#000">0.08</text>
<path d="M1519.2,1084.5 H1645.6" stroke="#0f0" stroke-width="10" stroke-linecap="round"/>
<text transform="translate(1661.40,1102.70) scale(1.060,1.000)" font-family="'Liberation Serif', 'Times New Roman', serif" font-weight="normal" font-size="56" stroke="#000" stroke-width="1.2" fill="#000">&#951;</text>
<text transform="translate(1706.30,1100.05) scale(1.000,0.917)" font-family="'Liberation Sans', Arial, sans-serif" font-weight="bold" font-size="54.5" fill="#000">=</text>
<text transform="translate(1752.30,1103.40) scale(1.000,1.040)" font-family="'Liberation Sans', Arial, sans-serif" font-weight="bold" font-size="54.5" fill="#000">0.</text>
<text transform="translate(1797.75,1103.40) scale(1.000,1.040)" font-family="'Liberation Sans', Arial, sans-serif" font-weight="bold" font-size="54.5" fill="#000" clip-path="url(#c1_54_5)">1</text>
<text transform="translate(1828.06,1103.40) scale(1.000,1.040)" font-family="'Liberation Sans', Arial, sans-serif" font-weight="bold" font-size="54.5" fill="#000">2</text>
<path d="M1519.2,1155.5 H1645.6" stroke="#00f" stroke-width="10" stroke-linecap="round"/>
<text transform="translate(1661.40,1174.50) scale(1.060,1.000)" font-family="'Liberation Serif', 'Times New Roman', serif" font-weight="normal" font-size="56" stroke="#000" stroke-width="1.2" fill="#000">&#951;</text>
<text transform="translate(1706.30,1171.85) scale(1.000,0.917)" font-family="'Liberation Sans', Arial, sans-serif" font-weight="bold" font-size="54.5" fill="#000">=</text>
<text transform="translate(1752.30,1175.20) scale(1.000,1.040)" font-family="'Liberation Sans', Arial, sans-serif" font-weight="bold" font-size="54.5" fill="#000">0.</text>
<text transform="translate(1797.75,1175.20) scale(1.000,1.040)" font-family="'Liberation Sans', Arial, sans-serif" font-weight="bold" font-size="54.5" fill="#000" clip-path="url(#c1_54_5)">1</text>
<text transform="translate(1828.06,1175.20) scale(1.000,1.040)" font-family="'Liberation Sans', Arial, sans-serif" font-weight="bold" font-size="54.5" fill="#000">6</text>
<defs><clipPath id="c1_65_5" clipPathUnits="userSpaceOnUse"><rect x="-65.5" y="-131.0" width="196.5" height="123.42"/><rect x="15.06" y="-131.0" width="9.44" height="144.10000000000002"/></clipPath><clipPath id="cJ_71" clipPathUnits="userSpaceOnUse"><rect x="-71" y="-40.22" width="213" height="213"/><rect x="24.12" y="-142" width="213" height="284"/></clipPath><clipPath id="c1_54_5" clipPathUnits="userSpaceOnUse"><rect x="-54.5" y="-109.0" width="163.5" height="102.54"/><rect x="12.50" y="-109.0" width="7.92" height="119.9"/></clipPath></defs>
</svg>
</body></html>
